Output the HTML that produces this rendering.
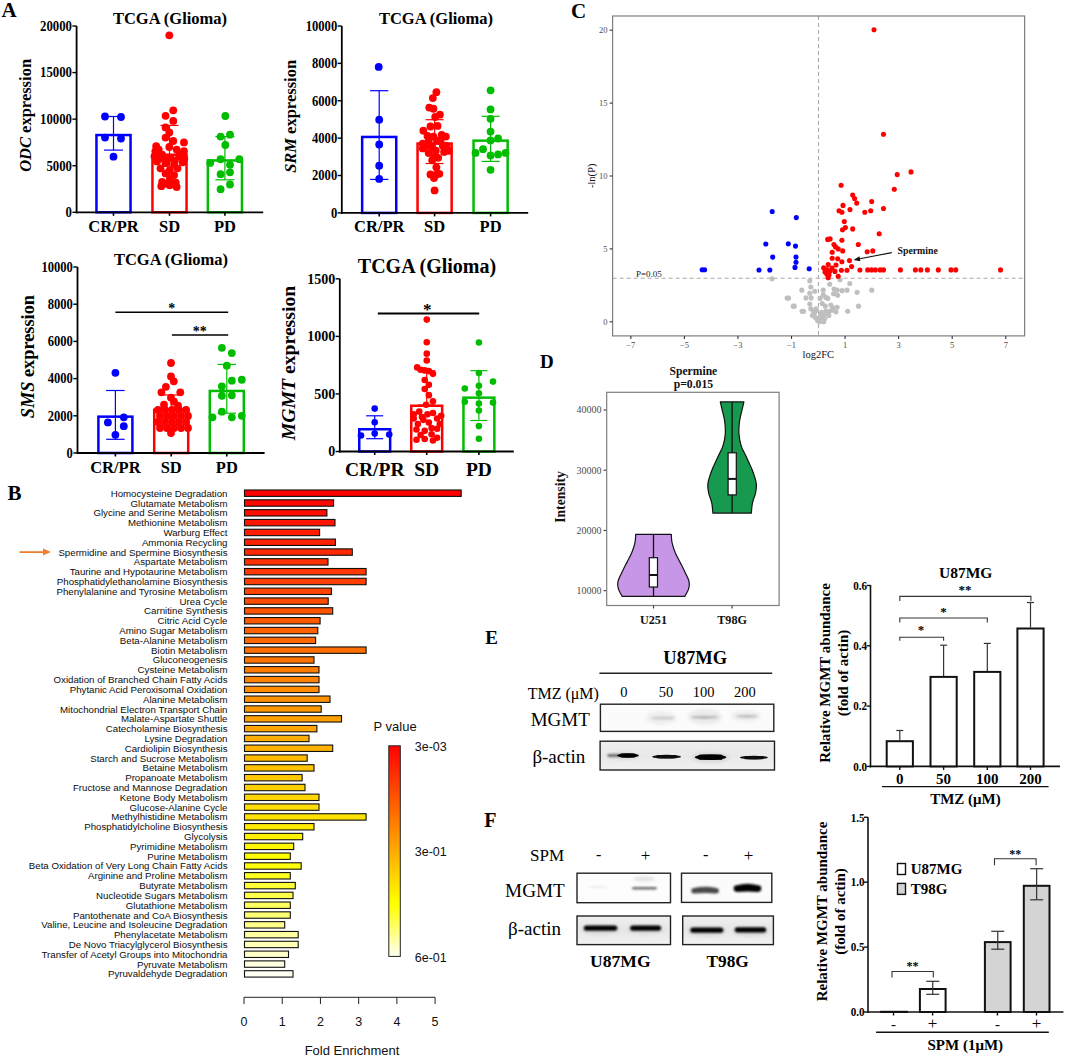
<!DOCTYPE html>
<html><head><meta charset="utf-8"><style>
html,body{margin:0;padding:0;background:#fff;width:1065px;height:1056px;overflow:hidden;}
svg{display:block;}
</style></head><body>
<svg width="1065" height="1056" viewBox="0 0 1065 1056">
<rect x="0" y="0" width="1065" height="1056" fill="#fff"/>
<rect x="96.45" y="135.05" width="34.10" height="77.25" fill="none" stroke="#0000ff" stroke-width="2.5" />
<rect x="152.45" y="154.75" width="34.10" height="57.55" fill="none" stroke="#ff0000" stroke-width="2.5" />
<rect x="207.85" y="160.45" width="34.10" height="51.85" fill="none" stroke="#00bd00" stroke-width="2.5" />
<circle cx="105.00" cy="116.50" r="3.90" fill="#0000ff"/>
<circle cx="121.00" cy="117.00" r="3.90" fill="#0000ff"/>
<circle cx="105.00" cy="137.60" r="3.90" fill="#0000ff"/>
<circle cx="121.00" cy="138.50" r="3.90" fill="#0000ff"/>
<circle cx="113.50" cy="156.70" r="3.90" fill="#0000ff"/>
<circle cx="169.32" cy="35.34" r="3.90" fill="#ff0000"/>
<circle cx="173.24" cy="110.34" r="3.90" fill="#ff0000"/>
<circle cx="165.57" cy="115.79" r="3.90" fill="#ff0000"/>
<circle cx="173.24" cy="120.90" r="3.90" fill="#ff0000"/>
<circle cx="165.57" cy="127.38" r="3.90" fill="#ff0000"/>
<circle cx="169.32" cy="132.49" r="3.90" fill="#ff0000"/>
<circle cx="165.57" cy="137.61" r="3.90" fill="#ff0000"/>
<circle cx="173.24" cy="141.02" r="3.90" fill="#ff0000"/>
<circle cx="183.97" cy="142.38" r="3.90" fill="#ff0000"/>
<circle cx="156.19" cy="146.13" r="3.90" fill="#ff0000"/>
<circle cx="158.75" cy="149.54" r="3.90" fill="#ff0000"/>
<circle cx="169.32" cy="146.98" r="3.90" fill="#ff0000"/>
<circle cx="176.65" cy="149.54" r="3.90" fill="#ff0000"/>
<circle cx="183.97" cy="151.24" r="3.90" fill="#ff0000"/>
<circle cx="154.49" cy="156.36" r="3.90" fill="#ff0000"/>
<circle cx="162.16" cy="154.65" r="3.90" fill="#ff0000"/>
<circle cx="170.68" cy="158.06" r="3.90" fill="#ff0000"/>
<circle cx="179.20" cy="156.36" r="3.90" fill="#ff0000"/>
<circle cx="184.32" cy="158.91" r="3.90" fill="#ff0000"/>
<circle cx="157.04" cy="161.47" r="3.90" fill="#ff0000"/>
<circle cx="165.57" cy="163.17" r="3.90" fill="#ff0000"/>
<circle cx="174.09" cy="164.03" r="3.90" fill="#ff0000"/>
<circle cx="182.61" cy="162.32" r="3.90" fill="#ff0000"/>
<circle cx="160.45" cy="168.29" r="3.90" fill="#ff0000"/>
<circle cx="169.83" cy="169.99" r="3.90" fill="#ff0000"/>
<circle cx="177.50" cy="168.29" r="3.90" fill="#ff0000"/>
<circle cx="165.57" cy="173.40" r="3.90" fill="#ff0000"/>
<circle cx="174.09" cy="175.10" r="3.90" fill="#ff0000"/>
<circle cx="169.83" cy="178.51" r="3.90" fill="#ff0000"/>
<circle cx="162.16" cy="181.92" r="3.90" fill="#ff0000"/>
<circle cx="167.27" cy="183.63" r="3.90" fill="#ff0000"/>
<circle cx="175.79" cy="182.77" r="3.90" fill="#ff0000"/>
<circle cx="161.31" cy="186.18" r="3.90" fill="#ff0000"/>
<circle cx="169.83" cy="185.33" r="3.90" fill="#ff0000"/>
<circle cx="176.65" cy="187.04" r="3.90" fill="#ff0000"/>
<circle cx="155.34" cy="151.24" r="3.90" fill="#ff0000"/>
<circle cx="180.91" cy="154.65" r="3.90" fill="#ff0000"/>
<circle cx="163.86" cy="158.91" r="3.90" fill="#ff0000"/>
<circle cx="174.94" cy="160.62" r="3.90" fill="#ff0000"/>
<circle cx="158.75" cy="157.21" r="3.90" fill="#ff0000"/>
<circle cx="225.30" cy="116.00" r="3.90" fill="#00bd00"/>
<circle cx="220.60" cy="136.60" r="3.90" fill="#00bd00"/>
<circle cx="230.00" cy="134.70" r="3.90" fill="#00bd00"/>
<circle cx="225.30" cy="145.00" r="3.90" fill="#00bd00"/>
<circle cx="210.20" cy="162.90" r="3.90" fill="#00bd00"/>
<circle cx="220.60" cy="159.20" r="3.90" fill="#00bd00"/>
<circle cx="239.30" cy="159.20" r="3.90" fill="#00bd00"/>
<circle cx="230.00" cy="164.80" r="3.90" fill="#00bd00"/>
<circle cx="220.60" cy="174.20" r="3.90" fill="#00bd00"/>
<circle cx="230.00" cy="172.30" r="3.90" fill="#00bd00"/>
<circle cx="230.00" cy="184.50" r="3.90" fill="#00bd00"/>
<circle cx="220.60" cy="189.20" r="3.90" fill="#00bd00"/>
<line x1="113.50" y1="116.50" x2="113.50" y2="150.10" stroke="#0000ff" stroke-width="1.2" />
<line x1="104.00" y1="116.50" x2="123.00" y2="116.50" stroke="#0000ff" stroke-width="1.2" />
<line x1="104.00" y1="150.10" x2="123.00" y2="150.10" stroke="#0000ff" stroke-width="1.2" />
<line x1="169.50" y1="125.40" x2="169.50" y2="180.80" stroke="#ff0000" stroke-width="1.2" />
<line x1="160.50" y1="125.40" x2="178.50" y2="125.40" stroke="#ff0000" stroke-width="1.2" />
<line x1="160.50" y1="180.80" x2="178.50" y2="180.80" stroke="#ff0000" stroke-width="1.2" />
<line x1="224.90" y1="136.60" x2="224.90" y2="179.80" stroke="#00bd00" stroke-width="1.2" />
<line x1="215.40" y1="136.60" x2="234.40" y2="136.60" stroke="#00bd00" stroke-width="1.2" />
<line x1="215.40" y1="179.80" x2="234.40" y2="179.80" stroke="#00bd00" stroke-width="1.2" />
<line x1="76.60" y1="26.00" x2="76.60" y2="213.30" stroke="#000" stroke-width="1.8" />
<line x1="75.70" y1="212.30" x2="263.20" y2="212.30" stroke="#000" stroke-width="1.8" />
<line x1="72.40" y1="212.30" x2="76.60" y2="212.30" stroke="#000" stroke-width="1.4" />
<text x="72.00" y="217.13" text-anchor="end" style="font-family:'Liberation Serif', serif;font-size:13.8px;font-weight:bold;" fill="#000"  textLength="6.40" lengthAdjust="spacingAndGlyphs">0</text>
<line x1="72.40" y1="165.73" x2="76.60" y2="165.73" stroke="#000" stroke-width="1.4" />
<text x="72.00" y="170.56" text-anchor="end" style="font-family:'Liberation Serif', serif;font-size:13.8px;font-weight:bold;" fill="#000"  textLength="25.60" lengthAdjust="spacingAndGlyphs">5000</text>
<line x1="72.40" y1="119.15" x2="76.60" y2="119.15" stroke="#000" stroke-width="1.4" />
<text x="72.00" y="123.98" text-anchor="end" style="font-family:'Liberation Serif', serif;font-size:13.8px;font-weight:bold;" fill="#000"  textLength="32.00" lengthAdjust="spacingAndGlyphs">10000</text>
<line x1="72.40" y1="72.58" x2="76.60" y2="72.58" stroke="#000" stroke-width="1.4" />
<text x="72.00" y="77.41" text-anchor="end" style="font-family:'Liberation Serif', serif;font-size:13.8px;font-weight:bold;" fill="#000"  textLength="32.00" lengthAdjust="spacingAndGlyphs">15000</text>
<line x1="72.40" y1="26.00" x2="76.60" y2="26.00" stroke="#000" stroke-width="1.4" />
<text x="72.00" y="30.83" text-anchor="end" style="font-family:'Liberation Serif', serif;font-size:13.8px;font-weight:bold;" fill="#000"  textLength="32.00" lengthAdjust="spacingAndGlyphs">20000</text>
<line x1="113.50" y1="212.30" x2="113.50" y2="215.80" stroke="#000" stroke-width="1.6" />
<line x1="169.50" y1="212.30" x2="169.50" y2="215.80" stroke="#000" stroke-width="1.6" />
<line x1="224.90" y1="212.30" x2="224.90" y2="215.80" stroke="#000" stroke-width="1.6" />
<text x="113.50" y="232.40" text-anchor="middle" style="font-family:'Liberation Serif', serif;font-size:16.5px;font-weight:bold;" fill="#000" >CR/PR</text>
<text x="169.50" y="232.40" text-anchor="middle" style="font-family:'Liberation Serif', serif;font-size:16.5px;font-weight:bold;" fill="#000" >SD</text>
<text x="224.90" y="232.40" text-anchor="middle" style="font-family:'Liberation Serif', serif;font-size:16.5px;font-weight:bold;" fill="#000" >PD</text>
<text x="170.00" y="23.50" text-anchor="middle" style="font-family:'Liberation Serif', serif;font-size:16.5px;font-weight:bold;" fill="#000" >TCGA (Glioma)</text>
<text x="31" y="115.4" text-anchor="middle" transform="rotate(-90 31 115.4)" style="font-family:'Liberation Serif', serif;font-size:16.5px;font-weight:bold;"><tspan font-style="italic">ODC</tspan> expression</text>
<rect x="362.15" y="136.95" width="34.10" height="75.95" fill="none" stroke="#0000ff" stroke-width="2.5" />
<rect x="417.55" y="143.55" width="34.10" height="69.35" fill="none" stroke="#ff0000" stroke-width="2.5" />
<rect x="473.55" y="140.65" width="34.10" height="72.25" fill="none" stroke="#00bd00" stroke-width="2.5" />
<circle cx="378.70" cy="66.90" r="3.90" fill="#0000ff"/>
<circle cx="379.20" cy="119.70" r="3.90" fill="#0000ff"/>
<circle cx="379.20" cy="144.50" r="3.90" fill="#0000ff"/>
<circle cx="379.20" cy="165.70" r="3.90" fill="#0000ff"/>
<circle cx="379.20" cy="178.90" r="3.90" fill="#0000ff"/>
<circle cx="436.37" cy="92.16" r="3.90" fill="#ff0000"/>
<circle cx="432.82" cy="98.08" r="3.90" fill="#ff0000"/>
<circle cx="429.27" cy="107.55" r="3.90" fill="#ff0000"/>
<circle cx="433.41" cy="108.74" r="3.90" fill="#ff0000"/>
<circle cx="439.92" cy="114.65" r="3.90" fill="#ff0000"/>
<circle cx="435.18" cy="117.02" r="3.90" fill="#ff0000"/>
<circle cx="430.45" cy="126.49" r="3.90" fill="#ff0000"/>
<circle cx="437.55" cy="125.90" r="3.90" fill="#ff0000"/>
<circle cx="423.35" cy="130.63" r="3.90" fill="#ff0000"/>
<circle cx="427.49" cy="135.96" r="3.90" fill="#ff0000"/>
<circle cx="433.41" cy="136.55" r="3.90" fill="#ff0000"/>
<circle cx="441.70" cy="134.78" r="3.90" fill="#ff0000"/>
<circle cx="445.84" cy="136.55" r="3.90" fill="#ff0000"/>
<circle cx="428.67" cy="141.29" r="3.90" fill="#ff0000"/>
<circle cx="436.96" cy="140.70" r="3.90" fill="#ff0000"/>
<circle cx="422.76" cy="148.39" r="3.90" fill="#ff0000"/>
<circle cx="432.23" cy="147.21" r="3.90" fill="#ff0000"/>
<circle cx="442.88" cy="146.02" r="3.90" fill="#ff0000"/>
<circle cx="448.80" cy="150.76" r="3.90" fill="#ff0000"/>
<circle cx="428.67" cy="153.12" r="3.90" fill="#ff0000"/>
<circle cx="434.59" cy="156.68" r="3.90" fill="#ff0000"/>
<circle cx="438.14" cy="157.86" r="3.90" fill="#ff0000"/>
<circle cx="432.23" cy="160.23" r="3.90" fill="#ff0000"/>
<circle cx="436.37" cy="167.33" r="3.90" fill="#ff0000"/>
<circle cx="430.45" cy="174.43" r="3.90" fill="#ff0000"/>
<circle cx="435.78" cy="175.02" r="3.90" fill="#ff0000"/>
<circle cx="439.33" cy="173.84" r="3.90" fill="#ff0000"/>
<circle cx="434.00" cy="177.98" r="3.90" fill="#ff0000"/>
<circle cx="434.59" cy="190.41" r="3.90" fill="#ff0000"/>
<circle cx="422.76" cy="143.66" r="3.90" fill="#ff0000"/>
<circle cx="440.51" cy="141.29" r="3.90" fill="#ff0000"/>
<circle cx="446.43" cy="146.02" r="3.90" fill="#ff0000"/>
<circle cx="426.31" cy="146.02" r="3.90" fill="#ff0000"/>
<circle cx="435.78" cy="150.76" r="3.90" fill="#ff0000"/>
<circle cx="444.06" cy="151.94" r="3.90" fill="#ff0000"/>
<circle cx="490.56" cy="109.39" r="3.90" fill="#00bd00"/>
<circle cx="490.56" cy="118.78" r="3.90" fill="#00bd00"/>
<circle cx="490.56" cy="131.55" r="3.90" fill="#00bd00"/>
<circle cx="490.56" cy="140.38" r="3.90" fill="#00bd00"/>
<circle cx="498.08" cy="138.50" r="3.90" fill="#00bd00"/>
<circle cx="483.05" cy="149.20" r="3.90" fill="#00bd00"/>
<circle cx="475.54" cy="152.96" r="3.90" fill="#00bd00"/>
<circle cx="490.56" cy="155.40" r="3.90" fill="#00bd00"/>
<circle cx="498.08" cy="154.46" r="3.90" fill="#00bd00"/>
<circle cx="505.59" cy="152.96" r="3.90" fill="#00bd00"/>
<circle cx="490.56" cy="169.86" r="3.90" fill="#00bd00"/>
<circle cx="490.60" cy="90.30" r="3.90" fill="#00bd00"/>
<line x1="379.20" y1="90.70" x2="379.20" y2="179.40" stroke="#0000ff" stroke-width="1.2" />
<line x1="370.05" y1="90.70" x2="388.35" y2="90.70" stroke="#0000ff" stroke-width="1.2" />
<line x1="370.05" y1="179.40" x2="388.35" y2="179.40" stroke="#0000ff" stroke-width="1.2" />
<line x1="434.60" y1="119.70" x2="434.60" y2="163.50" stroke="#ff0000" stroke-width="1.2" />
<line x1="425.60" y1="119.70" x2="443.60" y2="119.70" stroke="#ff0000" stroke-width="1.2" />
<line x1="425.60" y1="163.50" x2="443.60" y2="163.50" stroke="#ff0000" stroke-width="1.2" />
<line x1="490.60" y1="116.30" x2="490.60" y2="161.40" stroke="#00bd00" stroke-width="1.2" />
<line x1="481.60" y1="116.30" x2="499.60" y2="116.30" stroke="#00bd00" stroke-width="1.2" />
<line x1="481.60" y1="161.40" x2="499.60" y2="161.40" stroke="#00bd00" stroke-width="1.2" />
<line x1="341.80" y1="26.00" x2="341.80" y2="213.90" stroke="#000" stroke-width="1.8" />
<line x1="340.90" y1="212.90" x2="528.20" y2="212.90" stroke="#000" stroke-width="1.8" />
<line x1="337.60" y1="212.90" x2="341.80" y2="212.90" stroke="#000" stroke-width="1.4" />
<text x="337.20" y="217.80" text-anchor="end" style="font-family:'Liberation Serif', serif;font-size:14px;font-weight:bold;" fill="#000"  textLength="6.30" lengthAdjust="spacingAndGlyphs">0</text>
<line x1="337.60" y1="175.52" x2="341.80" y2="175.52" stroke="#000" stroke-width="1.4" />
<text x="337.20" y="180.42" text-anchor="end" style="font-family:'Liberation Serif', serif;font-size:14px;font-weight:bold;" fill="#000"  textLength="25.20" lengthAdjust="spacingAndGlyphs">2000</text>
<line x1="337.60" y1="138.14" x2="341.80" y2="138.14" stroke="#000" stroke-width="1.4" />
<text x="337.20" y="143.04" text-anchor="end" style="font-family:'Liberation Serif', serif;font-size:14px;font-weight:bold;" fill="#000"  textLength="25.20" lengthAdjust="spacingAndGlyphs">4000</text>
<line x1="337.60" y1="100.76" x2="341.80" y2="100.76" stroke="#000" stroke-width="1.4" />
<text x="337.20" y="105.66" text-anchor="end" style="font-family:'Liberation Serif', serif;font-size:14px;font-weight:bold;" fill="#000"  textLength="25.20" lengthAdjust="spacingAndGlyphs">6000</text>
<line x1="337.60" y1="63.38" x2="341.80" y2="63.38" stroke="#000" stroke-width="1.4" />
<text x="337.20" y="68.28" text-anchor="end" style="font-family:'Liberation Serif', serif;font-size:14px;font-weight:bold;" fill="#000"  textLength="25.20" lengthAdjust="spacingAndGlyphs">8000</text>
<line x1="337.60" y1="26.00" x2="341.80" y2="26.00" stroke="#000" stroke-width="1.4" />
<text x="337.20" y="30.90" text-anchor="end" style="font-family:'Liberation Serif', serif;font-size:14px;font-weight:bold;" fill="#000"  textLength="31.50" lengthAdjust="spacingAndGlyphs">10000</text>
<line x1="379.20" y1="212.90" x2="379.20" y2="216.40" stroke="#000" stroke-width="1.6" />
<line x1="434.60" y1="212.90" x2="434.60" y2="216.40" stroke="#000" stroke-width="1.6" />
<line x1="490.60" y1="212.90" x2="490.60" y2="216.40" stroke="#000" stroke-width="1.6" />
<text x="379.20" y="232.40" text-anchor="middle" style="font-family:'Liberation Serif', serif;font-size:16.5px;font-weight:bold;" fill="#000" >CR/PR</text>
<text x="434.60" y="232.40" text-anchor="middle" style="font-family:'Liberation Serif', serif;font-size:16.5px;font-weight:bold;" fill="#000" >SD</text>
<text x="490.60" y="232.40" text-anchor="middle" style="font-family:'Liberation Serif', serif;font-size:16.5px;font-weight:bold;" fill="#000" >PD</text>
<text x="436.00" y="23.80" text-anchor="middle" style="font-family:'Liberation Serif', serif;font-size:16.5px;font-weight:bold;" fill="#000" >TCGA (Glioma)</text>
<text x="296" y="116.4" text-anchor="middle" transform="rotate(-90 296 116.4)" style="font-family:'Liberation Serif', serif;font-size:16.5px;font-weight:bold;"><tspan font-style="italic">SRM</tspan> expression</text>
<rect x="98.40" y="416.65" width="34.00" height="36.35" fill="none" stroke="#0000ff" stroke-width="2.5" />
<rect x="154.20" y="409.75" width="34.00" height="43.25" fill="none" stroke="#ff0000" stroke-width="2.5" />
<rect x="209.80" y="390.95" width="34.00" height="62.05" fill="none" stroke="#00bd00" stroke-width="2.5" />
<circle cx="115.40" cy="372.80" r="3.90" fill="#0000ff"/>
<circle cx="107.90" cy="422.40" r="3.90" fill="#0000ff"/>
<circle cx="123.80" cy="417.30" r="3.90" fill="#0000ff"/>
<circle cx="123.80" cy="426.20" r="3.90" fill="#0000ff"/>
<circle cx="115.40" cy="434.80" r="3.90" fill="#0000ff"/>
<circle cx="171.00" cy="363.00" r="3.90" fill="#ff0000"/>
<circle cx="171.00" cy="376.40" r="3.90" fill="#ff0000"/>
<circle cx="173.80" cy="381.30" r="3.90" fill="#ff0000"/>
<circle cx="165.90" cy="386.80" r="3.90" fill="#ff0000"/>
<circle cx="161.40" cy="392.30" r="3.90" fill="#ff0000"/>
<circle cx="180.30" cy="392.30" r="3.90" fill="#ff0000"/>
<circle cx="171.00" cy="397.70" r="3.90" fill="#ff0000"/>
<circle cx="174.00" cy="401.70" r="3.90" fill="#ff0000"/>
<circle cx="164.00" cy="404.70" r="3.90" fill="#ff0000"/>
<circle cx="178.00" cy="405.70" r="3.90" fill="#ff0000"/>
<circle cx="171.00" cy="433.00" r="3.90" fill="#ff0000"/>
<circle cx="158.00" cy="410.00" r="3.90" fill="#ff0000"/>
<circle cx="165.00" cy="410.00" r="3.90" fill="#ff0000"/>
<circle cx="172.00" cy="410.00" r="3.90" fill="#ff0000"/>
<circle cx="179.00" cy="410.00" r="3.90" fill="#ff0000"/>
<circle cx="186.00" cy="410.00" r="3.90" fill="#ff0000"/>
<circle cx="160.00" cy="416.00" r="3.90" fill="#ff0000"/>
<circle cx="167.00" cy="416.00" r="3.90" fill="#ff0000"/>
<circle cx="174.00" cy="416.00" r="3.90" fill="#ff0000"/>
<circle cx="181.00" cy="416.00" r="3.90" fill="#ff0000"/>
<circle cx="188.00" cy="416.00" r="3.90" fill="#ff0000"/>
<circle cx="158.00" cy="422.00" r="3.90" fill="#ff0000"/>
<circle cx="165.00" cy="422.00" r="3.90" fill="#ff0000"/>
<circle cx="172.00" cy="422.00" r="3.90" fill="#ff0000"/>
<circle cx="179.00" cy="422.00" r="3.90" fill="#ff0000"/>
<circle cx="186.00" cy="422.00" r="3.90" fill="#ff0000"/>
<circle cx="160.00" cy="428.00" r="3.90" fill="#ff0000"/>
<circle cx="167.00" cy="428.00" r="3.90" fill="#ff0000"/>
<circle cx="174.00" cy="428.00" r="3.90" fill="#ff0000"/>
<circle cx="181.00" cy="428.00" r="3.90" fill="#ff0000"/>
<circle cx="188.00" cy="428.00" r="3.90" fill="#ff0000"/>
<circle cx="221.88" cy="347.84" r="3.90" fill="#00bd00"/>
<circle cx="231.83" cy="353.10" r="3.90" fill="#00bd00"/>
<circle cx="226.76" cy="365.68" r="3.90" fill="#00bd00"/>
<circle cx="231.83" cy="380.70" r="3.90" fill="#00bd00"/>
<circle cx="241.78" cy="379.77" r="3.90" fill="#00bd00"/>
<circle cx="221.88" cy="386.34" r="3.90" fill="#00bd00"/>
<circle cx="221.88" cy="395.73" r="3.90" fill="#00bd00"/>
<circle cx="231.83" cy="395.35" r="3.90" fill="#00bd00"/>
<circle cx="221.88" cy="411.69" r="3.90" fill="#00bd00"/>
<circle cx="212.49" cy="417.32" r="3.90" fill="#00bd00"/>
<circle cx="231.83" cy="417.32" r="3.90" fill="#00bd00"/>
<circle cx="241.78" cy="415.82" r="3.90" fill="#00bd00"/>
<line x1="115.40" y1="390.50" x2="115.40" y2="439.30" stroke="#0000ff" stroke-width="1.2" />
<line x1="106.15" y1="390.50" x2="124.65" y2="390.50" stroke="#0000ff" stroke-width="1.2" />
<line x1="106.15" y1="439.30" x2="124.65" y2="439.30" stroke="#0000ff" stroke-width="1.2" />
<line x1="171.20" y1="395.00" x2="171.20" y2="425.00" stroke="#ff0000" stroke-width="1.2" />
<line x1="162.20" y1="395.00" x2="180.20" y2="395.00" stroke="#ff0000" stroke-width="1.2" />
<line x1="162.20" y1="425.00" x2="180.20" y2="425.00" stroke="#ff0000" stroke-width="1.2" />
<line x1="226.80" y1="364.40" x2="226.80" y2="413.20" stroke="#00bd00" stroke-width="1.2" />
<line x1="217.55" y1="364.40" x2="236.05" y2="364.40" stroke="#00bd00" stroke-width="1.2" />
<line x1="217.55" y1="413.20" x2="236.05" y2="413.20" stroke="#00bd00" stroke-width="1.2" />
<line x1="77.50" y1="267.00" x2="77.50" y2="454.00" stroke="#000" stroke-width="1.8" />
<line x1="76.60" y1="453.00" x2="264.60" y2="453.00" stroke="#000" stroke-width="1.8" />
<line x1="73.30" y1="453.00" x2="77.50" y2="453.00" stroke="#000" stroke-width="1.4" />
<text x="72.90" y="457.83" text-anchor="end" style="font-family:'Liberation Serif', serif;font-size:13.8px;font-weight:bold;" fill="#000"  textLength="6.30" lengthAdjust="spacingAndGlyphs">0</text>
<line x1="73.30" y1="415.80" x2="77.50" y2="415.80" stroke="#000" stroke-width="1.4" />
<text x="72.90" y="420.63" text-anchor="end" style="font-family:'Liberation Serif', serif;font-size:13.8px;font-weight:bold;" fill="#000"  textLength="25.20" lengthAdjust="spacingAndGlyphs">2000</text>
<line x1="73.30" y1="378.60" x2="77.50" y2="378.60" stroke="#000" stroke-width="1.4" />
<text x="72.90" y="383.43" text-anchor="end" style="font-family:'Liberation Serif', serif;font-size:13.8px;font-weight:bold;" fill="#000"  textLength="25.20" lengthAdjust="spacingAndGlyphs">4000</text>
<line x1="73.30" y1="341.40" x2="77.50" y2="341.40" stroke="#000" stroke-width="1.4" />
<text x="72.90" y="346.23" text-anchor="end" style="font-family:'Liberation Serif', serif;font-size:13.8px;font-weight:bold;" fill="#000"  textLength="25.20" lengthAdjust="spacingAndGlyphs">6000</text>
<line x1="73.30" y1="304.20" x2="77.50" y2="304.20" stroke="#000" stroke-width="1.4" />
<text x="72.90" y="309.03" text-anchor="end" style="font-family:'Liberation Serif', serif;font-size:13.8px;font-weight:bold;" fill="#000"  textLength="25.20" lengthAdjust="spacingAndGlyphs">8000</text>
<line x1="73.30" y1="267.00" x2="77.50" y2="267.00" stroke="#000" stroke-width="1.4" />
<text x="72.90" y="271.83" text-anchor="end" style="font-family:'Liberation Serif', serif;font-size:13.8px;font-weight:bold;" fill="#000"  textLength="31.50" lengthAdjust="spacingAndGlyphs">10000</text>
<line x1="115.40" y1="453.00" x2="115.40" y2="456.50" stroke="#000" stroke-width="1.6" />
<line x1="171.20" y1="453.00" x2="171.20" y2="456.50" stroke="#000" stroke-width="1.6" />
<line x1="226.80" y1="453.00" x2="226.80" y2="456.50" stroke="#000" stroke-width="1.6" />
<text x="115.40" y="472.70" text-anchor="middle" style="font-family:'Liberation Serif', serif;font-size:16.5px;font-weight:bold;" fill="#000" >CR/PR</text>
<text x="171.20" y="472.70" text-anchor="middle" style="font-family:'Liberation Serif', serif;font-size:16.5px;font-weight:bold;" fill="#000" >SD</text>
<text x="226.80" y="472.70" text-anchor="middle" style="font-family:'Liberation Serif', serif;font-size:16.5px;font-weight:bold;" fill="#000" >PD</text>
<text x="171.00" y="265.40" text-anchor="middle" style="font-family:'Liberation Serif', serif;font-size:16.5px;font-weight:bold;" fill="#000" >TCGA (Glioma)</text>
<text x="34" y="356.6" text-anchor="middle" transform="rotate(-90 34 356.6)" style="font-family:'Liberation Serif', serif;font-size:18.3px;font-weight:bold;"><tspan font-style="italic">SMS</tspan> expression</text>
<line x1="115.40" y1="312.30" x2="228.20" y2="312.30" stroke="#000" stroke-width="1.6" />
<text x="171.70" y="312.50" text-anchor="middle" style="font-family:'Liberation Serif', serif;font-size:14px;font-weight:bold;" fill="#000" >*</text>
<line x1="171.90" y1="335.00" x2="228.20" y2="335.00" stroke="#000" stroke-width="1.6" />
<text x="199.70" y="335.50" text-anchor="middle" style="font-family:'Liberation Serif', serif;font-size:14px;font-weight:bold;" fill="#000" >**</text>
<rect x="359.25" y="429.25" width="30.90" height="22.25" fill="none" stroke="#0000ff" stroke-width="2.5" />
<rect x="411.25" y="405.75" width="30.90" height="45.75" fill="none" stroke="#ff0000" stroke-width="2.5" />
<rect x="463.45" y="397.65" width="30.90" height="53.85" fill="none" stroke="#00bd00" stroke-width="2.5" />
<circle cx="374.70" cy="408.60" r="3.30" fill="#0000ff"/>
<circle cx="374.70" cy="422.30" r="3.30" fill="#0000ff"/>
<circle cx="374.70" cy="433.60" r="3.30" fill="#0000ff"/>
<circle cx="361.00" cy="435.50" r="3.30" fill="#0000ff"/>
<circle cx="389.20" cy="434.60" r="3.30" fill="#0000ff"/>
<circle cx="426.77" cy="319.61" r="3.30" fill="#ff0000"/>
<circle cx="426.77" cy="342.27" r="3.30" fill="#ff0000"/>
<circle cx="426.77" cy="353.66" r="3.30" fill="#ff0000"/>
<circle cx="426.77" cy="360.53" r="3.30" fill="#ff0000"/>
<circle cx="417.16" cy="367.39" r="3.30" fill="#ff0000"/>
<circle cx="420.60" cy="369.73" r="3.30" fill="#ff0000"/>
<circle cx="424.72" cy="370.41" r="3.30" fill="#ff0000"/>
<circle cx="428.83" cy="371.10" r="3.30" fill="#ff0000"/>
<circle cx="432.95" cy="373.85" r="3.30" fill="#ff0000"/>
<circle cx="424.72" cy="380.03" r="3.30" fill="#ff0000"/>
<circle cx="428.83" cy="384.83" r="3.30" fill="#ff0000"/>
<circle cx="424.72" cy="388.95" r="3.30" fill="#ff0000"/>
<circle cx="428.83" cy="395.13" r="3.30" fill="#ff0000"/>
<circle cx="432.95" cy="401.31" r="3.30" fill="#ff0000"/>
<circle cx="426.09" cy="404.74" r="3.30" fill="#ff0000"/>
<circle cx="419.22" cy="411.61" r="3.30" fill="#ff0000"/>
<circle cx="432.95" cy="412.98" r="3.30" fill="#ff0000"/>
<circle cx="413.73" cy="418.47" r="3.30" fill="#ff0000"/>
<circle cx="423.34" cy="419.84" r="3.30" fill="#ff0000"/>
<circle cx="437.07" cy="418.47" r="3.30" fill="#ff0000"/>
<circle cx="417.85" cy="423.96" r="3.30" fill="#ff0000"/>
<circle cx="428.83" cy="422.59" r="3.30" fill="#ff0000"/>
<circle cx="439.82" cy="423.96" r="3.30" fill="#ff0000"/>
<circle cx="416.48" cy="429.46" r="3.30" fill="#ff0000"/>
<circle cx="424.72" cy="430.83" r="3.30" fill="#ff0000"/>
<circle cx="437.07" cy="428.77" r="3.30" fill="#ff0000"/>
<circle cx="420.60" cy="434.95" r="3.30" fill="#ff0000"/>
<circle cx="431.58" cy="434.26" r="3.30" fill="#ff0000"/>
<circle cx="416.48" cy="439.75" r="3.30" fill="#ff0000"/>
<circle cx="424.72" cy="439.07" r="3.30" fill="#ff0000"/>
<circle cx="432.95" cy="440.44" r="3.30" fill="#ff0000"/>
<circle cx="437.07" cy="437.69" r="3.30" fill="#ff0000"/>
<circle cx="413.73" cy="414.35" r="3.30" fill="#ff0000"/>
<circle cx="441.19" cy="415.73" r="3.30" fill="#ff0000"/>
<circle cx="427.46" cy="414.35" r="3.30" fill="#ff0000"/>
<circle cx="421.97" cy="417.10" r="3.30" fill="#ff0000"/>
<circle cx="431.58" cy="428.08" r="3.30" fill="#ff0000"/>
<circle cx="478.90" cy="342.50" r="3.30" fill="#00bd00"/>
<circle cx="478.90" cy="373.10" r="3.30" fill="#00bd00"/>
<circle cx="493.00" cy="381.60" r="3.30" fill="#00bd00"/>
<circle cx="464.80" cy="388.50" r="3.30" fill="#00bd00"/>
<circle cx="478.90" cy="385.70" r="3.30" fill="#00bd00"/>
<circle cx="478.90" cy="393.20" r="3.30" fill="#00bd00"/>
<circle cx="464.80" cy="401.70" r="3.30" fill="#00bd00"/>
<circle cx="493.00" cy="402.60" r="3.30" fill="#00bd00"/>
<circle cx="478.90" cy="403.60" r="3.30" fill="#00bd00"/>
<circle cx="478.90" cy="410.50" r="3.30" fill="#00bd00"/>
<circle cx="478.90" cy="426.10" r="3.30" fill="#00bd00"/>
<circle cx="478.90" cy="438.70" r="3.30" fill="#00bd00"/>
<line x1="374.70" y1="415.80" x2="374.70" y2="438.70" stroke="#0000ff" stroke-width="1.2" />
<line x1="366.20" y1="415.80" x2="383.20" y2="415.80" stroke="#0000ff" stroke-width="1.2" />
<line x1="366.20" y1="438.70" x2="383.20" y2="438.70" stroke="#0000ff" stroke-width="1.2" />
<line x1="426.70" y1="370.70" x2="426.70" y2="405.00" stroke="#ff0000" stroke-width="1.2" />
<line x1="418.20" y1="370.70" x2="435.20" y2="370.70" stroke="#ff0000" stroke-width="1.2" />
<line x1="418.20" y1="405.00" x2="435.20" y2="405.00" stroke="#ff0000" stroke-width="1.2" />
<line x1="478.90" y1="370.70" x2="478.90" y2="420.50" stroke="#00bd00" stroke-width="1.2" />
<line x1="470.40" y1="370.70" x2="487.40" y2="370.70" stroke="#00bd00" stroke-width="1.2" />
<line x1="470.40" y1="420.50" x2="487.40" y2="420.50" stroke="#00bd00" stroke-width="1.2" />
<line x1="339.80" y1="278.80" x2="339.80" y2="452.50" stroke="#000" stroke-width="1.8" />
<line x1="338.90" y1="451.50" x2="513.80" y2="451.50" stroke="#000" stroke-width="1.8" />
<line x1="335.60" y1="451.50" x2="339.80" y2="451.50" stroke="#000" stroke-width="1.4" />
<text x="335.20" y="456.40" text-anchor="end" style="font-family:'Liberation Serif', serif;font-size:14px;font-weight:bold;" fill="#000"  textLength="7.00" lengthAdjust="spacingAndGlyphs">0</text>
<line x1="335.60" y1="393.93" x2="339.80" y2="393.93" stroke="#000" stroke-width="1.4" />
<text x="335.20" y="398.83" text-anchor="end" style="font-family:'Liberation Serif', serif;font-size:14px;font-weight:bold;" fill="#000"  textLength="21.00" lengthAdjust="spacingAndGlyphs">500</text>
<line x1="335.60" y1="336.37" x2="339.80" y2="336.37" stroke="#000" stroke-width="1.4" />
<text x="335.20" y="341.27" text-anchor="end" style="font-family:'Liberation Serif', serif;font-size:14px;font-weight:bold;" fill="#000"  textLength="28.00" lengthAdjust="spacingAndGlyphs">1000</text>
<line x1="335.60" y1="278.80" x2="339.80" y2="278.80" stroke="#000" stroke-width="1.4" />
<text x="335.20" y="283.70" text-anchor="end" style="font-family:'Liberation Serif', serif;font-size:14px;font-weight:bold;" fill="#000"  textLength="28.00" lengthAdjust="spacingAndGlyphs">1500</text>
<line x1="374.70" y1="451.50" x2="374.70" y2="455.00" stroke="#000" stroke-width="1.6" />
<line x1="426.70" y1="451.50" x2="426.70" y2="455.00" stroke="#000" stroke-width="1.6" />
<line x1="478.90" y1="451.50" x2="478.90" y2="455.00" stroke="#000" stroke-width="1.6" />
<text x="374.70" y="475.90" text-anchor="middle" style="font-family:'Liberation Serif', serif;font-size:19.5px;font-weight:bold;" fill="#000" >CR/PR</text>
<text x="426.70" y="475.90" text-anchor="middle" style="font-family:'Liberation Serif', serif;font-size:19.5px;font-weight:bold;" fill="#000" >SD</text>
<text x="478.90" y="475.90" text-anchor="middle" style="font-family:'Liberation Serif', serif;font-size:19.5px;font-weight:bold;" fill="#000" >PD</text>
<text x="427.00" y="273.00" text-anchor="middle" style="font-family:'Liberation Serif', serif;font-size:20px;font-weight:bold;" fill="#000" >TCGA (Glioma)</text>
<text x="295" y="363" text-anchor="middle" transform="rotate(-90 295 363)" style="font-family:'Liberation Serif', serif;font-size:19.7px;font-weight:bold;"><tspan font-style="italic">MGMT</tspan> expression</text>
<line x1="377.80" y1="313.50" x2="479.20" y2="313.50" stroke="#000" stroke-width="1.8" />
<text x="427.20" y="314.50" text-anchor="middle" style="font-family:'Liberation Serif', serif;font-size:17px;font-weight:bold;" fill="#000" >*</text>
<text x="1.50" y="17.00" text-anchor="start" style="font-family:'Liberation Serif', serif;font-size:21px;font-weight:bold;" fill="#000" >A</text>
<text x="7.50" y="500.30" text-anchor="start" style="font-family:'Liberation Serif', serif;font-size:21px;font-weight:bold;" fill="#000" >B</text>
<rect x="244.50" y="490.00" width="216.70" height="6.40" fill="#ff0000" stroke="#111" stroke-width="1.1" />
<text x="227.50" y="496.70" text-anchor="end" style="font-family:'Liberation Sans', sans-serif;font-size:9.7px;font-weight:normal;" fill="#0d0d0d" >Homocysteine Degradation</text>
<rect x="244.50" y="499.81" width="89.10" height="6.40" fill="#ff0700" stroke="#111" stroke-width="1.1" />
<text x="227.50" y="506.51" text-anchor="end" style="font-family:'Liberation Sans', sans-serif;font-size:9.7px;font-weight:normal;" fill="#0d0d0d" >Glutamate Metabolism</text>
<rect x="244.50" y="509.62" width="82.40" height="6.40" fill="#ff0e00" stroke="#111" stroke-width="1.1" />
<text x="227.50" y="516.32" text-anchor="end" style="font-family:'Liberation Sans', sans-serif;font-size:9.7px;font-weight:normal;" fill="#0d0d0d" >Glycine and Serine Metabolism</text>
<rect x="244.50" y="519.43" width="90.50" height="6.40" fill="#ff1500" stroke="#111" stroke-width="1.1" />
<text x="227.50" y="526.13" text-anchor="end" style="font-family:'Liberation Sans', sans-serif;font-size:9.7px;font-weight:normal;" fill="#0d0d0d" >Methionine Metabolism</text>
<rect x="244.50" y="529.24" width="75.10" height="6.40" fill="#ff1c00" stroke="#111" stroke-width="1.1" />
<text x="227.50" y="535.94" text-anchor="end" style="font-family:'Liberation Sans', sans-serif;font-size:9.7px;font-weight:normal;" fill="#0d0d0d" >Warburg Effect</text>
<rect x="244.50" y="539.05" width="90.90" height="6.40" fill="#ff2200" stroke="#111" stroke-width="1.1" />
<text x="227.50" y="545.75" text-anchor="end" style="font-family:'Liberation Sans', sans-serif;font-size:9.7px;font-weight:normal;" fill="#0d0d0d" >Ammonia Recycling</text>
<rect x="244.50" y="548.86" width="107.80" height="6.40" fill="#ff2900" stroke="#111" stroke-width="1.1" />
<text x="227.50" y="555.56" text-anchor="end" style="font-family:'Liberation Sans', sans-serif;font-size:9.7px;font-weight:normal;" fill="#0d0d0d" >Spermidine and Spermine Biosynthesis</text>
<rect x="244.50" y="558.67" width="83.50" height="6.40" fill="#ff3000" stroke="#111" stroke-width="1.1" />
<text x="227.50" y="565.37" text-anchor="end" style="font-family:'Liberation Sans', sans-serif;font-size:9.7px;font-weight:normal;" fill="#0d0d0d" >Aspartate Metabolism</text>
<rect x="244.50" y="568.48" width="121.60" height="6.40" fill="#ff3700" stroke="#111" stroke-width="1.1" />
<text x="227.50" y="575.18" text-anchor="end" style="font-family:'Liberation Sans', sans-serif;font-size:9.7px;font-weight:normal;" fill="#0d0d0d" >Taurine and Hypotaurine Metabolism</text>
<rect x="244.50" y="578.29" width="121.60" height="6.40" fill="#ff3e00" stroke="#111" stroke-width="1.1" />
<text x="227.50" y="584.99" text-anchor="end" style="font-family:'Liberation Sans', sans-serif;font-size:9.7px;font-weight:normal;" fill="#0d0d0d" >Phosphatidylethanolamine Biosynthesis</text>
<rect x="244.50" y="588.10" width="86.90" height="6.40" fill="#ff4500" stroke="#111" stroke-width="1.1" />
<text x="227.50" y="594.80" text-anchor="end" style="font-family:'Liberation Sans', sans-serif;font-size:9.7px;font-weight:normal;" fill="#0d0d0d" >Phenylalanine and Tyrosine Metabolism</text>
<rect x="244.50" y="597.91" width="83.70" height="6.40" fill="#ff4c00" stroke="#111" stroke-width="1.1" />
<text x="227.50" y="604.61" text-anchor="end" style="font-family:'Liberation Sans', sans-serif;font-size:9.7px;font-weight:normal;" fill="#0d0d0d" >Urea Cycle</text>
<rect x="244.50" y="607.72" width="88.20" height="6.40" fill="#ff5300" stroke="#111" stroke-width="1.1" />
<text x="227.50" y="614.42" text-anchor="end" style="font-family:'Liberation Sans', sans-serif;font-size:9.7px;font-weight:normal;" fill="#0d0d0d" >Carnitine Synthesis</text>
<rect x="244.50" y="617.53" width="75.60" height="6.40" fill="#ff5a00" stroke="#111" stroke-width="1.1" />
<text x="227.50" y="624.23" text-anchor="end" style="font-family:'Liberation Sans', sans-serif;font-size:9.7px;font-weight:normal;" fill="#0d0d0d" >Citric Acid Cycle</text>
<rect x="244.50" y="627.34" width="73.30" height="6.40" fill="#ff6000" stroke="#111" stroke-width="1.1" />
<text x="227.50" y="634.04" text-anchor="end" style="font-family:'Liberation Sans', sans-serif;font-size:9.7px;font-weight:normal;" fill="#0d0d0d" >Amino Sugar Metabolism</text>
<rect x="244.50" y="637.15" width="71.10" height="6.40" fill="#ff6700" stroke="#111" stroke-width="1.1" />
<text x="227.50" y="643.85" text-anchor="end" style="font-family:'Liberation Sans', sans-serif;font-size:9.7px;font-weight:normal;" fill="#0d0d0d" >Beta-Alanine Metabolism</text>
<rect x="244.50" y="646.96" width="121.60" height="6.40" fill="#ff6e00" stroke="#111" stroke-width="1.1" />
<text x="227.50" y="653.66" text-anchor="end" style="font-family:'Liberation Sans', sans-serif;font-size:9.7px;font-weight:normal;" fill="#0d0d0d" >Biotin Metabolism</text>
<rect x="244.50" y="656.77" width="69.50" height="6.40" fill="#ff7500" stroke="#111" stroke-width="1.1" />
<text x="227.50" y="663.47" text-anchor="end" style="font-family:'Liberation Sans', sans-serif;font-size:9.7px;font-weight:normal;" fill="#0d0d0d" >Gluconeogenesis</text>
<rect x="244.50" y="666.58" width="74.50" height="6.40" fill="#ff7c00" stroke="#111" stroke-width="1.1" />
<text x="227.50" y="673.28" text-anchor="end" style="font-family:'Liberation Sans', sans-serif;font-size:9.7px;font-weight:normal;" fill="#0d0d0d" >Cysteine Metabolism</text>
<rect x="244.50" y="676.39" width="74.50" height="6.40" fill="#ff8300" stroke="#111" stroke-width="1.1" />
<text x="227.50" y="683.09" text-anchor="end" style="font-family:'Liberation Sans', sans-serif;font-size:9.7px;font-weight:normal;" fill="#0d0d0d" >Oxidation of Branched Chain Fatty Acids</text>
<rect x="244.50" y="686.20" width="74.50" height="6.40" fill="#ff8a00" stroke="#111" stroke-width="1.1" />
<text x="227.50" y="692.90" text-anchor="end" style="font-family:'Liberation Sans', sans-serif;font-size:9.7px;font-weight:normal;" fill="#0d0d0d" >Phytanic Acid Peroxisomal Oxidation</text>
<rect x="244.50" y="696.01" width="85.50" height="6.40" fill="#ff9100" stroke="#111" stroke-width="1.1" />
<text x="227.50" y="702.71" text-anchor="end" style="font-family:'Liberation Sans', sans-serif;font-size:9.7px;font-weight:normal;" fill="#0d0d0d" >Alanine Metabolism</text>
<rect x="244.50" y="705.82" width="76.70" height="6.40" fill="#ff9800" stroke="#111" stroke-width="1.1" />
<text x="227.50" y="712.52" text-anchor="end" style="font-family:'Liberation Sans', sans-serif;font-size:9.7px;font-weight:normal;" fill="#0d0d0d" >Mitochondrial Electron Transport Chain</text>
<rect x="244.50" y="715.63" width="97.00" height="6.40" fill="#ff9f00" stroke="#111" stroke-width="1.1" />
<text x="227.50" y="722.33" text-anchor="end" style="font-family:'Liberation Sans', sans-serif;font-size:9.7px;font-weight:normal;" fill="#0d0d0d" >Malate-Aspartate Shuttle</text>
<rect x="244.50" y="725.44" width="72.40" height="6.40" fill="#ffa500" stroke="#111" stroke-width="1.1" />
<text x="227.50" y="732.14" text-anchor="end" style="font-family:'Liberation Sans', sans-serif;font-size:9.7px;font-weight:normal;" fill="#0d0d0d" >Catecholamine Biosynthesis</text>
<rect x="244.50" y="735.25" width="64.50" height="6.40" fill="#ffac00" stroke="#111" stroke-width="1.1" />
<text x="227.50" y="741.95" text-anchor="end" style="font-family:'Liberation Sans', sans-serif;font-size:9.7px;font-weight:normal;" fill="#0d0d0d" >Lysine Degradation</text>
<rect x="244.50" y="745.06" width="88.20" height="6.40" fill="#ffb300" stroke="#111" stroke-width="1.1" />
<text x="227.50" y="751.76" text-anchor="end" style="font-family:'Liberation Sans', sans-serif;font-size:9.7px;font-weight:normal;" fill="#0d0d0d" >Cardiolipin Biosynthesis</text>
<rect x="244.50" y="754.87" width="62.70" height="6.40" fill="#ffba00" stroke="#111" stroke-width="1.1" />
<text x="227.50" y="761.57" text-anchor="end" style="font-family:'Liberation Sans', sans-serif;font-size:9.7px;font-weight:normal;" fill="#0d0d0d" >Starch and Sucrose Metabolism</text>
<rect x="244.50" y="764.68" width="69.50" height="6.40" fill="#ffc100" stroke="#111" stroke-width="1.1" />
<text x="227.50" y="771.38" text-anchor="end" style="font-family:'Liberation Sans', sans-serif;font-size:9.7px;font-weight:normal;" fill="#0d0d0d" >Betaine Metabolism</text>
<rect x="244.50" y="774.49" width="57.60" height="6.40" fill="#ffc800" stroke="#111" stroke-width="1.1" />
<text x="227.50" y="781.19" text-anchor="end" style="font-family:'Liberation Sans', sans-serif;font-size:9.7px;font-weight:normal;" fill="#0d0d0d" >Propanoate Metabolism</text>
<rect x="244.50" y="784.30" width="60.50" height="6.40" fill="#ffcf00" stroke="#111" stroke-width="1.1" />
<text x="227.50" y="791.00" text-anchor="end" style="font-family:'Liberation Sans', sans-serif;font-size:9.7px;font-weight:normal;" fill="#0d0d0d" >Fructose and Mannose Degradation</text>
<rect x="244.50" y="794.11" width="74.50" height="6.40" fill="#ffd600" stroke="#111" stroke-width="1.1" />
<text x="227.50" y="800.81" text-anchor="end" style="font-family:'Liberation Sans', sans-serif;font-size:9.7px;font-weight:normal;" fill="#0d0d0d" >Ketone Body Metabolism</text>
<rect x="244.50" y="803.92" width="74.50" height="6.40" fill="#ffdd00" stroke="#111" stroke-width="1.1" />
<text x="227.50" y="810.62" text-anchor="end" style="font-family:'Liberation Sans', sans-serif;font-size:9.7px;font-weight:normal;" fill="#0d0d0d" >Glucose-Alanine Cycle</text>
<rect x="244.50" y="813.73" width="121.60" height="6.40" fill="#ffe300" stroke="#111" stroke-width="1.1" />
<text x="227.50" y="820.43" text-anchor="end" style="font-family:'Liberation Sans', sans-serif;font-size:9.7px;font-weight:normal;" fill="#0d0d0d" >Methylhistidine Metabolism</text>
<rect x="244.50" y="823.54" width="69.50" height="6.40" fill="#ffea00" stroke="#111" stroke-width="1.1" />
<text x="227.50" y="830.24" text-anchor="end" style="font-family:'Liberation Sans', sans-serif;font-size:9.7px;font-weight:normal;" fill="#0d0d0d" >Phosphatidylcholine Biosynthesis</text>
<rect x="244.50" y="833.35" width="58.20" height="6.40" fill="#fff100" stroke="#111" stroke-width="1.1" />
<text x="227.50" y="840.05" text-anchor="end" style="font-family:'Liberation Sans', sans-serif;font-size:9.7px;font-weight:normal;" fill="#0d0d0d" >Glycolysis</text>
<rect x="244.50" y="843.16" width="49.20" height="6.40" fill="#fff800" stroke="#111" stroke-width="1.1" />
<text x="227.50" y="849.86" text-anchor="end" style="font-family:'Liberation Sans', sans-serif;font-size:9.7px;font-weight:normal;" fill="#0d0d0d" >Pyrimidine Metabolism</text>
<rect x="244.50" y="852.97" width="45.80" height="6.40" fill="#ffff00" stroke="#111" stroke-width="1.1" />
<text x="227.50" y="859.67" text-anchor="end" style="font-family:'Liberation Sans', sans-serif;font-size:9.7px;font-weight:normal;" fill="#0d0d0d" >Purine Metabolism</text>
<rect x="244.50" y="862.78" width="56.70" height="6.40" fill="#ffff0b" stroke="#111" stroke-width="1.1" />
<text x="227.50" y="869.48" text-anchor="end" style="font-family:'Liberation Sans', sans-serif;font-size:9.7px;font-weight:normal;" fill="#0d0d0d" >Beta Oxidation of Very Long Chain Fatty Acids</text>
<rect x="244.50" y="872.59" width="45.80" height="6.40" fill="#ffff20" stroke="#111" stroke-width="1.1" />
<text x="227.50" y="879.29" text-anchor="end" style="font-family:'Liberation Sans', sans-serif;font-size:9.7px;font-weight:normal;" fill="#0d0d0d" >Arginine and Proline Metabolism</text>
<rect x="244.50" y="882.40" width="50.80" height="6.40" fill="#ffff35" stroke="#111" stroke-width="1.1" />
<text x="227.50" y="889.10" text-anchor="end" style="font-family:'Liberation Sans', sans-serif;font-size:9.7px;font-weight:normal;" fill="#0d0d0d" >Butyrate Metabolism</text>
<rect x="244.50" y="892.21" width="48.50" height="6.40" fill="#ffff4a" stroke="#111" stroke-width="1.1" />
<text x="227.50" y="898.91" text-anchor="end" style="font-family:'Liberation Sans', sans-serif;font-size:9.7px;font-weight:normal;" fill="#0d0d0d" >Nucleotide Sugars Metabolism</text>
<rect x="244.50" y="902.02" width="45.80" height="6.40" fill="#ffff60" stroke="#111" stroke-width="1.1" />
<text x="227.50" y="908.72" text-anchor="end" style="font-family:'Liberation Sans', sans-serif;font-size:9.7px;font-weight:normal;" fill="#0d0d0d" >Glutathione Metabolism</text>
<rect x="244.50" y="911.83" width="45.80" height="6.40" fill="#ffff75" stroke="#111" stroke-width="1.1" />
<text x="227.50" y="918.53" text-anchor="end" style="font-family:'Liberation Sans', sans-serif;font-size:9.7px;font-weight:normal;" fill="#0d0d0d" >Pantothenate and CoA Biosynthesis</text>
<rect x="244.50" y="921.64" width="40.20" height="6.40" fill="#ffff8a" stroke="#111" stroke-width="1.1" />
<text x="227.50" y="928.34" text-anchor="end" style="font-family:'Liberation Sans', sans-serif;font-size:9.7px;font-weight:normal;" fill="#0d0d0d" >Valine, Leucine and Isoleucine Degradation</text>
<rect x="244.50" y="931.45" width="53.70" height="6.40" fill="#ffff9f" stroke="#111" stroke-width="1.1" />
<text x="227.50" y="938.15" text-anchor="end" style="font-family:'Liberation Sans', sans-serif;font-size:9.7px;font-weight:normal;" fill="#0d0d0d" >Phenylacetate Metabolism</text>
<rect x="244.50" y="941.26" width="53.70" height="6.40" fill="#ffffb5" stroke="#111" stroke-width="1.1" />
<text x="227.50" y="947.96" text-anchor="end" style="font-family:'Liberation Sans', sans-serif;font-size:9.7px;font-weight:normal;" fill="#0d0d0d" >De Novo Triacylglycerol Biosynthesis</text>
<rect x="244.50" y="951.07" width="44.00" height="6.40" fill="#ffffca" stroke="#111" stroke-width="1.1" />
<text x="227.50" y="957.77" text-anchor="end" style="font-family:'Liberation Sans', sans-serif;font-size:9.7px;font-weight:normal;" fill="#0d0d0d" >Transfer of Acetyl Groups into Mitochondria</text>
<rect x="244.50" y="960.88" width="40.20" height="6.40" fill="#ffffdf" stroke="#111" stroke-width="1.1" />
<text x="227.50" y="967.58" text-anchor="end" style="font-family:'Liberation Sans', sans-serif;font-size:9.7px;font-weight:normal;" fill="#0d0d0d" >Pyruvate Metabolism</text>
<rect x="244.50" y="970.69" width="48.50" height="6.40" fill="#fffff4" stroke="#111" stroke-width="1.1" />
<text x="227.50" y="977.39" text-anchor="end" style="font-family:'Liberation Sans', sans-serif;font-size:9.7px;font-weight:normal;" fill="#0d0d0d" >Pyruvaldehyde Degradation</text>
<line x1="19.50" y1="552.10" x2="44.00" y2="552.10" stroke="#ef7f2f" stroke-width="1.8" />
<path d="M43,548.6 L51,552.1 L43,555.6 Z" fill="#ef7f2f"/>
<line x1="244.00" y1="997.30" x2="435.10" y2="997.30" stroke="#222" stroke-width="1" />
<line x1="244.00" y1="997.30" x2="244.00" y2="1004.00" stroke="#222" stroke-width="1" />
<text x="244.00" y="1025.50" text-anchor="middle" style="font-family:'Liberation Sans', sans-serif;font-size:12.5px;font-weight:normal;" fill="#111" >0</text>
<line x1="282.22" y1="997.30" x2="282.22" y2="1004.00" stroke="#222" stroke-width="1" />
<text x="282.22" y="1025.50" text-anchor="middle" style="font-family:'Liberation Sans', sans-serif;font-size:12.5px;font-weight:normal;" fill="#111" >1</text>
<line x1="320.44" y1="997.30" x2="320.44" y2="1004.00" stroke="#222" stroke-width="1" />
<text x="320.44" y="1025.50" text-anchor="middle" style="font-family:'Liberation Sans', sans-serif;font-size:12.5px;font-weight:normal;" fill="#111" >2</text>
<line x1="358.66" y1="997.30" x2="358.66" y2="1004.00" stroke="#222" stroke-width="1" />
<text x="358.66" y="1025.50" text-anchor="middle" style="font-family:'Liberation Sans', sans-serif;font-size:12.5px;font-weight:normal;" fill="#111" >3</text>
<line x1="396.88" y1="997.30" x2="396.88" y2="1004.00" stroke="#222" stroke-width="1" />
<text x="396.88" y="1025.50" text-anchor="middle" style="font-family:'Liberation Sans', sans-serif;font-size:12.5px;font-weight:normal;" fill="#111" >4</text>
<line x1="435.10" y1="997.30" x2="435.10" y2="1004.00" stroke="#222" stroke-width="1" />
<text x="435.10" y="1025.50" text-anchor="middle" style="font-family:'Liberation Sans', sans-serif;font-size:12.5px;font-weight:normal;" fill="#111" >5</text>
<text x="352.00" y="1054.60" text-anchor="middle" style="font-family:'Liberation Sans', sans-serif;font-size:13px;font-weight:normal;" fill="#111" >Fold Enrichment</text>
<defs><linearGradient id="hg" x1="0" y1="0" x2="0" y2="1">
<stop offset="0.000" stop-color="#ff0000"/>
<stop offset="0.026" stop-color="#ff0900"/>
<stop offset="0.051" stop-color="#ff1200"/>
<stop offset="0.077" stop-color="#ff1a00"/>
<stop offset="0.103" stop-color="#ff2300"/>
<stop offset="0.128" stop-color="#ff2c00"/>
<stop offset="0.154" stop-color="#ff3500"/>
<stop offset="0.179" stop-color="#ff3e00"/>
<stop offset="0.205" stop-color="#ff4600"/>
<stop offset="0.231" stop-color="#ff4f00"/>
<stop offset="0.256" stop-color="#ff5800"/>
<stop offset="0.282" stop-color="#ff6100"/>
<stop offset="0.308" stop-color="#ff6a00"/>
<stop offset="0.333" stop-color="#ff7200"/>
<stop offset="0.359" stop-color="#ff7b00"/>
<stop offset="0.385" stop-color="#ff8400"/>
<stop offset="0.410" stop-color="#ff8d00"/>
<stop offset="0.436" stop-color="#ff9500"/>
<stop offset="0.462" stop-color="#ff9e00"/>
<stop offset="0.487" stop-color="#ffa700"/>
<stop offset="0.513" stop-color="#ffb000"/>
<stop offset="0.538" stop-color="#ffb900"/>
<stop offset="0.564" stop-color="#ffc100"/>
<stop offset="0.590" stop-color="#ffca00"/>
<stop offset="0.615" stop-color="#ffd300"/>
<stop offset="0.641" stop-color="#ffdc00"/>
<stop offset="0.667" stop-color="#ffe500"/>
<stop offset="0.692" stop-color="#ffed00"/>
<stop offset="0.718" stop-color="#fff600"/>
<stop offset="0.744" stop-color="#ffff00"/>
<stop offset="0.769" stop-color="#ffff0d"/>
<stop offset="0.795" stop-color="#ffff26"/>
<stop offset="0.821" stop-color="#ffff40"/>
<stop offset="0.846" stop-color="#ffff59"/>
<stop offset="0.872" stop-color="#ffff73"/>
<stop offset="0.897" stop-color="#ffff8c"/>
<stop offset="0.923" stop-color="#ffffa6"/>
<stop offset="0.949" stop-color="#ffffbf"/>
<stop offset="0.974" stop-color="#ffffd9"/>
<stop offset="1.000" stop-color="#fffff2"/>
</linearGradient></defs>
<rect x="388.80" y="745.80" width="11.50" height="210.60" fill="url(#hg)" stroke="#222" stroke-width="1" />
<text x="373.50" y="730.60" text-anchor="start" style="font-family:'Liberation Sans', sans-serif;font-size:13px;font-weight:normal;" fill="#111" >P value</text>
<text x="414.80" y="751.30" text-anchor="start" style="font-family:'Liberation Sans', sans-serif;font-size:12.5px;font-weight:normal;" fill="#111" >3e-03</text>
<text x="414.80" y="855.90" text-anchor="start" style="font-family:'Liberation Sans', sans-serif;font-size:12.5px;font-weight:normal;" fill="#111" >3e-01</text>
<text x="414.80" y="961.50" text-anchor="start" style="font-family:'Liberation Sans', sans-serif;font-size:12.5px;font-weight:normal;" fill="#111" >6e-01</text>
<text x="571.00" y="18.40" text-anchor="start" style="font-family:'Liberation Serif', serif;font-size:21px;font-weight:bold;" fill="#000" >C</text>
<line x1="612.60" y1="278.20" x2="1024.60" y2="278.20" stroke="#aaa" stroke-width="1.1" stroke-dasharray="4,3"/>
<line x1="818.50" y1="16.00" x2="818.50" y2="335.90" stroke="#aaa" stroke-width="1.1" stroke-dasharray="4,3"/>
<circle cx="772.07" cy="278.78" r="2.55" fill="#bfbfbf"/>
<circle cx="809.77" cy="280.85" r="2.55" fill="#bfbfbf"/>
<circle cx="810.81" cy="287.05" r="2.55" fill="#bfbfbf"/>
<circle cx="801.82" cy="290.14" r="2.55" fill="#bfbfbf"/>
<circle cx="814.73" cy="291.18" r="2.55" fill="#bfbfbf"/>
<circle cx="809.77" cy="293.24" r="2.55" fill="#bfbfbf"/>
<circle cx="787.05" cy="298.10" r="2.55" fill="#bfbfbf"/>
<circle cx="788.60" cy="298.10" r="2.55" fill="#bfbfbf"/>
<circle cx="805.95" cy="297.89" r="2.55" fill="#bfbfbf"/>
<circle cx="811.12" cy="297.89" r="2.55" fill="#bfbfbf"/>
<circle cx="809.77" cy="304.09" r="2.55" fill="#bfbfbf"/>
<circle cx="793.24" cy="306.16" r="2.55" fill="#bfbfbf"/>
<circle cx="794.28" cy="306.16" r="2.55" fill="#bfbfbf"/>
<circle cx="802.02" cy="311.32" r="2.55" fill="#bfbfbf"/>
<circle cx="803.57" cy="311.32" r="2.55" fill="#bfbfbf"/>
<circle cx="823.20" cy="290.14" r="2.55" fill="#bfbfbf"/>
<circle cx="829.71" cy="284.26" r="2.55" fill="#bfbfbf"/>
<circle cx="840.04" cy="279.81" r="2.55" fill="#bfbfbf"/>
<circle cx="849.75" cy="283.43" r="2.55" fill="#bfbfbf"/>
<circle cx="834.05" cy="289.11" r="2.55" fill="#bfbfbf"/>
<circle cx="837.15" cy="290.14" r="2.55" fill="#bfbfbf"/>
<circle cx="842.11" cy="290.66" r="2.55" fill="#bfbfbf"/>
<circle cx="846.96" cy="290.14" r="2.55" fill="#bfbfbf"/>
<circle cx="857.09" cy="292.21" r="2.55" fill="#bfbfbf"/>
<circle cx="871.76" cy="290.14" r="2.55" fill="#bfbfbf"/>
<circle cx="833.53" cy="293.76" r="2.55" fill="#bfbfbf"/>
<circle cx="837.67" cy="295.31" r="2.55" fill="#bfbfbf"/>
<circle cx="823.20" cy="294.79" r="2.55" fill="#bfbfbf"/>
<circle cx="825.79" cy="297.38" r="2.55" fill="#bfbfbf"/>
<circle cx="820.10" cy="298.41" r="2.55" fill="#bfbfbf"/>
<circle cx="827.85" cy="298.41" r="2.55" fill="#bfbfbf"/>
<circle cx="822.17" cy="303.57" r="2.55" fill="#bfbfbf"/>
<circle cx="825.27" cy="306.16" r="2.55" fill="#bfbfbf"/>
<circle cx="830.95" cy="305.12" r="2.55" fill="#bfbfbf"/>
<circle cx="837.15" cy="307.19" r="2.55" fill="#bfbfbf"/>
<circle cx="833.02" cy="307.71" r="2.55" fill="#bfbfbf"/>
<circle cx="858.53" cy="306.16" r="2.55" fill="#bfbfbf"/>
<circle cx="847.69" cy="311.32" r="2.55" fill="#bfbfbf"/>
<circle cx="835.91" cy="311.84" r="2.55" fill="#bfbfbf"/>
<circle cx="829.40" cy="311.32" r="2.55" fill="#bfbfbf"/>
<circle cx="810.81" cy="308.74" r="2.55" fill="#bfbfbf"/>
<circle cx="815.97" cy="308.74" r="2.55" fill="#bfbfbf"/>
<circle cx="816.49" cy="310.29" r="2.55" fill="#bfbfbf"/>
<circle cx="812.36" cy="315.45" r="2.55" fill="#bfbfbf"/>
<circle cx="815.45" cy="317.52" r="2.55" fill="#bfbfbf"/>
<circle cx="818.55" cy="318.55" r="2.55" fill="#bfbfbf"/>
<circle cx="821.65" cy="312.36" r="2.55" fill="#bfbfbf"/>
<circle cx="823.72" cy="314.42" r="2.55" fill="#bfbfbf"/>
<circle cx="827.85" cy="313.39" r="2.55" fill="#bfbfbf"/>
<circle cx="828.88" cy="315.45" r="2.55" fill="#bfbfbf"/>
<circle cx="819.59" cy="321.65" r="2.55" fill="#bfbfbf"/>
<circle cx="823.72" cy="321.65" r="2.55" fill="#bfbfbf"/>
<circle cx="817.52" cy="320.62" r="2.55" fill="#bfbfbf"/>
<circle cx="821.65" cy="317.52" r="2.55" fill="#bfbfbf"/>
<circle cx="825.79" cy="311.32" r="2.55" fill="#bfbfbf"/>
<circle cx="813.39" cy="311.32" r="2.55" fill="#bfbfbf"/>
<circle cx="820.62" cy="315.45" r="2.55" fill="#bfbfbf"/>
<circle cx="824.75" cy="318.55" r="2.55" fill="#bfbfbf"/>
<circle cx="831.98" cy="310.29" r="2.55" fill="#bfbfbf"/>
<circle cx="814.42" cy="313.39" r="2.55" fill="#bfbfbf"/>
<circle cx="772.20" cy="211.50" r="2.55" fill="#0000ff"/>
<circle cx="796.30" cy="217.60" r="2.55" fill="#0000ff"/>
<circle cx="765.80" cy="244.00" r="2.55" fill="#0000ff"/>
<circle cx="788.30" cy="243.70" r="2.55" fill="#0000ff"/>
<circle cx="795.50" cy="246.10" r="2.55" fill="#0000ff"/>
<circle cx="772.70" cy="257.10" r="2.55" fill="#0000ff"/>
<circle cx="796.00" cy="257.10" r="2.55" fill="#0000ff"/>
<circle cx="796.00" cy="262.20" r="2.55" fill="#0000ff"/>
<circle cx="795.00" cy="267.40" r="2.55" fill="#0000ff"/>
<circle cx="759.00" cy="270.00" r="2.55" fill="#0000ff"/>
<circle cx="769.80" cy="270.00" r="2.55" fill="#0000ff"/>
<circle cx="809.20" cy="268.70" r="2.55" fill="#0000ff"/>
<circle cx="702.20" cy="269.80" r="2.55" fill="#0000ff"/>
<circle cx="704.60" cy="269.80" r="2.55" fill="#0000ff"/>
<circle cx="874.00" cy="29.80" r="2.55" fill="#ff0000"/>
<circle cx="883.50" cy="134.20" r="2.55" fill="#ff0000"/>
<circle cx="897.20" cy="174.60" r="2.55" fill="#ff0000"/>
<circle cx="911.00" cy="171.90" r="2.55" fill="#ff0000"/>
<circle cx="894.30" cy="189.20" r="2.55" fill="#ff0000"/>
<circle cx="883.50" cy="208.50" r="2.55" fill="#ff0000"/>
<circle cx="867.70" cy="269.90" r="2.55" fill="#ff0000"/>
<circle cx="871.50" cy="269.90" r="2.55" fill="#ff0000"/>
<circle cx="875.40" cy="269.90" r="2.55" fill="#ff0000"/>
<circle cx="880.20" cy="269.90" r="2.55" fill="#ff0000"/>
<circle cx="883.50" cy="269.90" r="2.55" fill="#ff0000"/>
<circle cx="900.40" cy="269.90" r="2.55" fill="#ff0000"/>
<circle cx="915.40" cy="269.90" r="2.55" fill="#ff0000"/>
<circle cx="920.80" cy="269.90" r="2.55" fill="#ff0000"/>
<circle cx="927.40" cy="269.90" r="2.55" fill="#ff0000"/>
<circle cx="938.30" cy="269.90" r="2.55" fill="#ff0000"/>
<circle cx="951.00" cy="269.90" r="2.55" fill="#ff0000"/>
<circle cx="955.70" cy="269.90" r="2.55" fill="#ff0000"/>
<circle cx="1000.50" cy="269.90" r="2.55" fill="#ff0000"/>
<circle cx="841.10" cy="185.30" r="2.55" fill="#ff0000"/>
<circle cx="852.70" cy="195.10" r="2.55" fill="#ff0000"/>
<circle cx="854.60" cy="198.60" r="2.55" fill="#ff0000"/>
<circle cx="856.70" cy="203.10" r="2.55" fill="#ff0000"/>
<circle cx="871.70" cy="201.50" r="2.55" fill="#ff0000"/>
<circle cx="843.00" cy="205.40" r="2.55" fill="#ff0000"/>
<circle cx="850.00" cy="209.60" r="2.55" fill="#ff0000"/>
<circle cx="839.00" cy="210.70" r="2.55" fill="#ff0000"/>
<circle cx="841.90" cy="212.30" r="2.55" fill="#ff0000"/>
<circle cx="864.80" cy="212.30" r="2.55" fill="#ff0000"/>
<circle cx="870.70" cy="210.70" r="2.55" fill="#ff0000"/>
<circle cx="844.30" cy="221.50" r="2.55" fill="#ff0000"/>
<circle cx="845.40" cy="227.60" r="2.55" fill="#ff0000"/>
<circle cx="842.50" cy="229.70" r="2.55" fill="#ff0000"/>
<circle cx="852.70" cy="228.90" r="2.55" fill="#ff0000"/>
<circle cx="879.20" cy="233.70" r="2.55" fill="#ff0000"/>
<circle cx="827.70" cy="239.40" r="2.55" fill="#ff0000"/>
<circle cx="830.10" cy="238.90" r="2.55" fill="#ff0000"/>
<circle cx="841.90" cy="240.20" r="2.55" fill="#ff0000"/>
<circle cx="858.30" cy="244.50" r="2.55" fill="#ff0000"/>
<circle cx="833.90" cy="244.50" r="2.55" fill="#ff0000"/>
<circle cx="835.50" cy="246.90" r="2.55" fill="#ff0000"/>
<circle cx="838.20" cy="248.90" r="2.55" fill="#ff0000"/>
<circle cx="842.70" cy="250.90" r="2.55" fill="#ff0000"/>
<circle cx="832.20" cy="252.20" r="2.55" fill="#ff0000"/>
<circle cx="867.20" cy="251.80" r="2.55" fill="#ff0000"/>
<circle cx="872.80" cy="250.90" r="2.55" fill="#ff0000"/>
<circle cx="832.20" cy="258.20" r="2.55" fill="#ff0000"/>
<circle cx="837.70" cy="258.70" r="2.55" fill="#ff0000"/>
<circle cx="841.90" cy="261.70" r="2.55" fill="#ff0000"/>
<circle cx="849.50" cy="260.60" r="2.55" fill="#ff0000"/>
<circle cx="851.60" cy="266.60" r="2.55" fill="#ff0000"/>
<circle cx="828.20" cy="264.60" r="2.55" fill="#ff0000"/>
<circle cx="823.70" cy="267.90" r="2.55" fill="#ff0000"/>
<circle cx="826.90" cy="269.50" r="2.55" fill="#ff0000"/>
<circle cx="830.10" cy="271.10" r="2.55" fill="#ff0000"/>
<circle cx="835.00" cy="271.40" r="2.55" fill="#ff0000"/>
<circle cx="841.40" cy="270.30" r="2.55" fill="#ff0000"/>
<circle cx="847.00" cy="270.30" r="2.55" fill="#ff0000"/>
<circle cx="859.90" cy="270.00" r="2.55" fill="#ff0000"/>
<circle cx="826.90" cy="274.30" r="2.55" fill="#ff0000"/>
<circle cx="838.20" cy="276.20" r="2.55" fill="#ff0000"/>
<circle cx="828.20" cy="277.80" r="2.55" fill="#ff0000"/>
<circle cx="825.00" cy="272.00" r="2.55" fill="#ff0000"/>
<circle cx="829.00" cy="275.00" r="2.55" fill="#ff0000"/>
<circle cx="832.00" cy="268.00" r="2.55" fill="#ff0000"/>
<circle cx="836.00" cy="265.00" r="2.55" fill="#ff0000"/>
<rect x="612.60" y="16.00" width="412.00" height="319.90" fill="none" stroke="#7f7f7f" stroke-width="1.2" />
<line x1="609.60" y1="321.80" x2="612.60" y2="321.80" stroke="#333" stroke-width="1.1" />
<text x="607.50" y="324.80" text-anchor="end" style="font-family:'Liberation Serif', serif;font-size:8.5px;font-weight:normal;" fill="#4d4d4d" >0</text>
<line x1="609.60" y1="248.90" x2="612.60" y2="248.90" stroke="#333" stroke-width="1.1" />
<text x="607.50" y="251.90" text-anchor="end" style="font-family:'Liberation Serif', serif;font-size:8.5px;font-weight:normal;" fill="#4d4d4d" >5</text>
<line x1="609.60" y1="176.00" x2="612.60" y2="176.00" stroke="#333" stroke-width="1.1" />
<text x="607.50" y="179.00" text-anchor="end" style="font-family:'Liberation Serif', serif;font-size:8.5px;font-weight:normal;" fill="#4d4d4d" >10</text>
<line x1="609.60" y1="103.10" x2="612.60" y2="103.10" stroke="#333" stroke-width="1.1" />
<text x="607.50" y="106.10" text-anchor="end" style="font-family:'Liberation Serif', serif;font-size:8.5px;font-weight:normal;" fill="#4d4d4d" >15</text>
<line x1="609.60" y1="30.20" x2="612.60" y2="30.20" stroke="#333" stroke-width="1.1" />
<text x="607.50" y="33.20" text-anchor="end" style="font-family:'Liberation Serif', serif;font-size:8.5px;font-weight:normal;" fill="#4d4d4d" >20</text>
<line x1="630.84" y1="335.90" x2="630.84" y2="338.90" stroke="#333" stroke-width="1.1" />
<text x="630.84" y="347.60" text-anchor="middle" style="font-family:'Liberation Serif', serif;font-size:8.5px;font-weight:normal;" fill="#4d4d4d" >&#8722;7</text>
<line x1="684.40" y1="335.90" x2="684.40" y2="338.90" stroke="#333" stroke-width="1.1" />
<text x="684.40" y="347.60" text-anchor="middle" style="font-family:'Liberation Serif', serif;font-size:8.5px;font-weight:normal;" fill="#4d4d4d" >&#8722;5</text>
<line x1="737.96" y1="335.90" x2="737.96" y2="338.90" stroke="#333" stroke-width="1.1" />
<text x="737.96" y="347.60" text-anchor="middle" style="font-family:'Liberation Serif', serif;font-size:8.5px;font-weight:normal;" fill="#4d4d4d" >&#8722;3</text>
<line x1="791.52" y1="335.90" x2="791.52" y2="338.90" stroke="#333" stroke-width="1.1" />
<text x="791.52" y="347.60" text-anchor="middle" style="font-family:'Liberation Serif', serif;font-size:8.5px;font-weight:normal;" fill="#4d4d4d" >&#8722;1</text>
<line x1="845.08" y1="335.90" x2="845.08" y2="338.90" stroke="#333" stroke-width="1.1" />
<text x="845.08" y="347.60" text-anchor="middle" style="font-family:'Liberation Serif', serif;font-size:8.5px;font-weight:normal;" fill="#4d4d4d" >1</text>
<line x1="898.64" y1="335.90" x2="898.64" y2="338.90" stroke="#333" stroke-width="1.1" />
<text x="898.64" y="347.60" text-anchor="middle" style="font-family:'Liberation Serif', serif;font-size:8.5px;font-weight:normal;" fill="#4d4d4d" >3</text>
<line x1="952.20" y1="335.90" x2="952.20" y2="338.90" stroke="#333" stroke-width="1.1" />
<text x="952.20" y="347.60" text-anchor="middle" style="font-family:'Liberation Serif', serif;font-size:8.5px;font-weight:normal;" fill="#4d4d4d" >5</text>
<line x1="1005.76" y1="335.90" x2="1005.76" y2="338.90" stroke="#333" stroke-width="1.1" />
<text x="1005.76" y="347.60" text-anchor="middle" style="font-family:'Liberation Serif', serif;font-size:8.5px;font-weight:normal;" fill="#4d4d4d" >7</text>
<text x="818.30" y="358.30" text-anchor="middle" style="font-family:'Liberation Serif', serif;font-size:10.5px;font-weight:normal;" fill="#111" >log2FC</text>
<text x="595.50" y="175.80" text-anchor="middle" style="font-family:'Liberation Serif', serif;font-size:10.5px;font-weight:normal;" fill="#111" transform="rotate(-90 595.5 175.8)" >-ln(P)</text>
<text x="636.00" y="276.70" text-anchor="start" style="font-family:'Liberation Serif', serif;font-size:9px;font-weight:normal;" fill="#222" >P=0.05</text>
<text x="897.50" y="254.10" text-anchor="start" style="font-family:'Liberation Serif', serif;font-size:9.8px;font-weight:bold;" fill="#111" >Spermine</text>
<line x1="891.80" y1="252.60" x2="856.00" y2="259.50" stroke="#111" stroke-width="1.1" />
<path d="M853.5,260 L859.5,256.3 L860.3,261.3 Z" fill="#111"/>
<text x="540.00" y="367.90" text-anchor="start" style="font-family:'Liberation Serif', serif;font-size:19px;font-weight:bold;" fill="#000" >D</text>
<text x="693.40" y="374.80" text-anchor="middle" style="font-family:'Liberation Serif', serif;font-size:11.6px;font-weight:bold;" fill="#111" >Spermine</text>
<text x="693.40" y="388.30" text-anchor="middle" style="font-family:'Liberation Serif', serif;font-size:11.7px;font-weight:bold;" fill="#111" >p=0.015</text>
<line x1="603.60" y1="590.70" x2="606.70" y2="590.70" stroke="#333" stroke-width="1.1" />
<text x="601.50" y="594.10" text-anchor="end" style="font-family:'Liberation Serif', serif;font-size:10px;font-weight:normal;" fill="#4d4d4d" >10000</text>
<line x1="603.60" y1="530.45" x2="606.70" y2="530.45" stroke="#333" stroke-width="1.1" />
<text x="601.50" y="533.85" text-anchor="end" style="font-family:'Liberation Serif', serif;font-size:10px;font-weight:normal;" fill="#4d4d4d" >20000</text>
<line x1="603.60" y1="470.20" x2="606.70" y2="470.20" stroke="#333" stroke-width="1.1" />
<text x="601.50" y="473.60" text-anchor="end" style="font-family:'Liberation Serif', serif;font-size:10px;font-weight:normal;" fill="#4d4d4d" >30000</text>
<line x1="603.60" y1="409.95" x2="606.70" y2="409.95" stroke="#333" stroke-width="1.1" />
<text x="601.50" y="413.35" text-anchor="end" style="font-family:'Liberation Serif', serif;font-size:10px;font-weight:normal;" fill="#4d4d4d" >40000</text>
<polygon points="635.70,534.30 635.67,534.76 635.64,535.34 635.61,536.03 635.58,536.80 635.54,537.64 635.48,538.52 635.40,539.44 635.30,540.37 635.17,541.30 635.00,542.20 634.80,543.10 634.58,544.04 634.33,545.00 634.06,545.98 633.76,546.98 633.45,547.98 633.11,548.99 632.76,550.00 632.39,551.01 632.00,552.00 631.59,552.99 631.14,553.98 630.67,554.97 630.18,555.96 629.67,556.95 629.15,557.94 628.63,558.93 628.11,559.92 627.60,560.91 627.10,561.90 626.61,562.88 626.11,563.86 625.61,564.84 625.11,565.82 624.61,566.80 624.11,567.78 623.62,568.76 623.14,569.74 622.66,570.72 622.20,571.70 621.73,572.70 621.24,573.71 620.74,574.74 620.24,575.77 619.76,576.80 619.31,577.82 618.89,578.81 618.53,579.78 618.23,580.71 618.00,581.60 617.85,582.44 617.75,583.24 617.70,584.00 617.71,584.74 617.76,585.46 617.84,586.16 617.97,586.86 618.12,587.56 618.30,588.27 618.50,589.00 618.76,589.77 619.09,590.60 619.49,591.45 619.93,592.32 620.38,593.16 620.83,593.97 621.26,594.72 621.65,595.39 621.97,595.96 622.20,596.40 684.80,596.40 685.03,595.96 685.35,595.39 685.74,594.72 686.17,593.97 686.62,593.16 687.07,592.32 687.51,591.45 687.91,590.60 688.24,589.77 688.50,589.00 688.70,588.27 688.88,587.56 689.03,586.86 689.16,586.16 689.24,585.46 689.29,584.74 689.30,584.00 689.25,583.24 689.15,582.44 689.00,581.60 688.77,580.71 688.47,579.78 688.11,578.81 687.69,577.82 687.24,576.80 686.76,575.77 686.26,574.74 685.76,573.71 685.27,572.70 684.80,571.70 684.34,570.72 683.86,569.74 683.38,568.76 682.89,567.78 682.39,566.80 681.89,565.82 681.39,564.84 680.89,563.86 680.39,562.88 679.90,561.90 679.40,560.91 678.89,559.92 678.37,558.93 677.85,557.94 677.33,556.95 676.82,555.96 676.33,554.97 675.86,553.98 675.41,552.99 675.00,552.00 674.61,551.01 674.24,550.00 673.89,548.99 673.55,547.98 673.24,546.98 672.94,545.98 672.67,545.00 672.42,544.04 672.20,543.10 672.00,542.20 671.83,541.30 671.70,540.37 671.60,539.44 671.52,538.52 671.46,537.64 671.42,536.80 671.39,536.03 671.36,535.34 671.33,534.76 671.30,534.30" fill="#c896e6" stroke="#111" stroke-width="1.2" stroke-linejoin="round"/>
<polygon points="720.30,401.90 720.40,402.31 720.52,402.81 720.65,403.39 720.81,404.05 720.98,404.77 721.17,405.56 721.36,406.41 721.57,407.30 721.78,408.23 722.00,409.20 722.24,410.23 722.51,411.36 722.81,412.55 723.11,413.80 723.43,415.09 723.73,416.40 724.02,417.73 724.28,419.04 724.51,420.34 724.70,421.60 724.85,422.83 724.99,424.07 725.10,425.30 725.20,426.53 725.27,427.76 725.31,428.98 725.33,430.21 725.32,431.44 725.28,432.67 725.20,433.90 725.09,435.13 724.96,436.36 724.80,437.59 724.61,438.82 724.39,440.05 724.14,441.28 723.85,442.51 723.54,443.74 723.19,444.97 722.80,446.20 722.36,447.43 721.87,448.66 721.32,449.89 720.74,451.12 720.14,452.35 719.52,453.58 718.89,454.81 718.27,456.04 717.67,457.27 717.10,458.50 716.54,459.73 715.97,460.96 715.40,462.19 714.84,463.42 714.27,464.65 713.72,465.88 713.19,467.11 712.67,468.34 712.17,469.57 711.70,470.80 711.24,472.04 710.78,473.30 710.33,474.57 709.89,475.84 709.47,477.10 709.08,478.35 708.73,479.59 708.43,480.79 708.18,481.97 708.00,483.10 707.88,484.19 707.82,485.24 707.81,486.25 707.85,487.24 707.93,488.21 708.04,489.16 708.18,490.11 708.34,491.06 708.52,492.02 708.70,493.00 708.91,493.98 709.18,494.96 709.49,495.93 709.82,496.90 710.17,497.88 710.52,498.85 710.86,499.83 711.18,500.81 711.46,501.80 711.70,502.80 711.90,503.86 712.07,504.99 712.23,506.18 712.37,507.38 712.49,508.56 712.59,509.70 712.68,510.75 712.77,511.69 712.84,512.48 712.90,513.10 751.30,513.10 751.36,512.48 751.43,511.69 751.52,510.75 751.61,509.70 751.71,508.56 751.83,507.38 751.97,506.18 752.13,504.99 752.30,503.86 752.50,502.80 752.74,501.80 753.02,500.81 753.34,499.83 753.68,498.85 754.03,497.88 754.38,496.90 754.71,495.93 755.02,494.96 755.29,493.98 755.50,493.00 755.68,492.02 755.86,491.06 756.02,490.11 756.16,489.16 756.27,488.21 756.35,487.24 756.39,486.25 756.38,485.24 756.32,484.19 756.20,483.10 756.02,481.97 755.77,480.79 755.47,479.59 755.12,478.35 754.73,477.10 754.31,475.84 753.87,474.57 753.42,473.30 752.96,472.04 752.50,470.80 752.03,469.57 751.53,468.34 751.01,467.11 750.48,465.88 749.93,464.65 749.36,463.42 748.80,462.19 748.23,460.96 747.66,459.73 747.10,458.50 746.53,457.27 745.93,456.04 745.31,454.81 744.68,453.58 744.06,452.35 743.46,451.12 742.88,449.89 742.33,448.66 741.84,447.43 741.40,446.20 741.01,444.97 740.66,443.74 740.35,442.51 740.06,441.28 739.81,440.05 739.59,438.82 739.40,437.59 739.24,436.36 739.11,435.13 739.00,433.90 738.92,432.67 738.88,431.44 738.87,430.21 738.89,428.98 738.93,427.76 739.00,426.53 739.10,425.30 739.21,424.07 739.35,422.83 739.50,421.60 739.69,420.34 739.92,419.04 740.18,417.73 740.47,416.40 740.77,415.09 741.09,413.80 741.39,412.55 741.69,411.36 741.96,410.23 742.20,409.20 742.42,408.23 742.63,407.30 742.84,406.41 743.03,405.56 743.22,404.77 743.39,404.05 743.55,403.39 743.68,402.81 743.80,402.31 743.90,401.90" fill="#17994f" stroke="#111" stroke-width="1.2" stroke-linejoin="round"/>
<line x1="653.50" y1="534.30" x2="653.50" y2="596.40" stroke="#111" stroke-width="1.3" />
<line x1="732.10" y1="401.90" x2="732.10" y2="513.10" stroke="#111" stroke-width="1.3" />
<rect x="649.30" y="557.70" width="8.20" height="29.30" fill="#fff" stroke="#111" stroke-width="1.2" />
<line x1="649.30" y1="575.00" x2="657.50" y2="575.00" stroke="#111" stroke-width="2" />
<rect x="728.10" y="452.80" width="8.20" height="42.10" fill="#fff" stroke="#111" stroke-width="1.2" />
<line x1="728.10" y1="478.90" x2="736.30" y2="478.90" stroke="#111" stroke-width="2" />
<rect x="606.70" y="392.30" width="172.40" height="213.20" fill="none" stroke="#7f7f7f" stroke-width="1.2" />
<line x1="653.50" y1="605.50" x2="653.50" y2="608.50" stroke="#333" stroke-width="1.1" />
<line x1="732.10" y1="605.50" x2="732.10" y2="608.50" stroke="#333" stroke-width="1.1" />
<text x="653.50" y="623.50" text-anchor="middle" style="font-family:'Liberation Serif', serif;font-size:12.2px;font-weight:bold;" fill="#111" >U251</text>
<text x="732.10" y="623.50" text-anchor="middle" style="font-family:'Liberation Serif', serif;font-size:12.2px;font-weight:bold;" fill="#111" >T98G</text>
<text x="564.80" y="497.00" text-anchor="middle" style="font-family:'Liberation Serif', serif;font-size:13.7px;font-weight:bold;" fill="#111" transform="rotate(-90 564.8 497)" >Intensity</text>
<defs>
<filter id="bl0" x="-30%" y="-200%" width="160%" height="500%"><feGaussianBlur stdDeviation="0.7"/></filter>
<filter id="bl1" x="-30%" y="-200%" width="160%" height="500%"><feGaussianBlur stdDeviation="1.1"/></filter>
<filter id="bl2" x="-30%" y="-200%" width="160%" height="500%"><feGaussianBlur stdDeviation="1.8"/></filter>
<linearGradient id="actbg" x1="0" y1="0" x2="0" y2="1"><stop offset="0" stop-color="#efefef"/><stop offset="0.45" stop-color="#e6e6e6"/><stop offset="1" stop-color="#f2f2f2"/></linearGradient>
<linearGradient id="actbgE" x1="0" y1="0" x2="0" y2="1"><stop offset="0" stop-color="#eeeeee"/><stop offset="0.5" stop-color="#e9e9e9"/><stop offset="1" stop-color="#f0f0f0"/></linearGradient>
</defs>
<text x="485.30" y="644.20" text-anchor="start" style="font-family:'Liberation Serif', serif;font-size:19px;font-weight:bold;" fill="#000" >E</text>
<text x="695.20" y="664.40" text-anchor="middle" style="font-family:'Liberation Serif', serif;font-size:18.5px;font-weight:bold;" fill="#000" >U87MG</text>
<line x1="599.40" y1="673.20" x2="772.20" y2="673.20" stroke="#222" stroke-width="1.4" />
<text x="598.90" y="698.80" text-anchor="end" style="font-family:'Liberation Serif', serif;font-size:16px;font-weight:normal;" fill="#000" >TMZ (&#956;M)</text>
<text x="623.80" y="696.50" text-anchor="middle" style="font-family:'Liberation Serif', serif;font-size:14.5px;font-weight:normal;" fill="#000" >0</text>
<text x="666.00" y="696.50" text-anchor="middle" style="font-family:'Liberation Serif', serif;font-size:14.5px;font-weight:normal;" fill="#000" >50</text>
<text x="703.60" y="696.50" text-anchor="middle" style="font-family:'Liberation Serif', serif;font-size:14.5px;font-weight:normal;" fill="#000" >100</text>
<text x="744.90" y="696.50" text-anchor="middle" style="font-family:'Liberation Serif', serif;font-size:14.5px;font-weight:normal;" fill="#000" >200</text>
<rect x="600.40" y="704.20" width="173.40" height="27.20" fill="#fbfbfb" stroke="#222" stroke-width="1.4" />
<ellipse cx="661.00" cy="718.00" rx="15.00" ry="7.00" fill="#ececec" opacity="0.8" filter="url(#bl2)"/>
<ellipse cx="705.00" cy="717.00" rx="17.00" ry="8.00" fill="#e8e8e8" opacity="0.8" filter="url(#bl2)"/>
<ellipse cx="746.00" cy="716.00" rx="15.00" ry="6.00" fill="#ececec" opacity="0.8" filter="url(#bl2)"/>
<ellipse cx="663.00" cy="718.00" rx="12.00" ry="1.30" fill="#c2c2c2" opacity="0.9" filter="url(#bl1)"/>
<ellipse cx="704.50" cy="717.30" rx="14.00" ry="1.50" fill="#adadad" opacity="0.9" filter="url(#bl1)"/>
<ellipse cx="747.00" cy="716.30" rx="11.00" ry="1.40" fill="#b5b5b5" opacity="0.9" filter="url(#bl1)"/>
<text x="589.80" y="725.80" text-anchor="end" style="font-family:'Liberation Serif', serif;font-size:19px;font-weight:normal;" fill="#000" >MGMT</text>
<rect x="600.10" y="741.20" width="174.40" height="28.80" fill="url(#actbgE)" stroke="#222" stroke-width="1.4" />
<ellipse cx="710.50" cy="757.50" rx="19.00" ry="5.50" fill="#cfcfcf" opacity="0.6" filter="url(#bl2)"/>
<ellipse cx="623.00" cy="756.00" rx="17.00" ry="4.50" fill="#d5d5d5" opacity="0.5" filter="url(#bl2)"/>
<path d="M608.60,754.40 Q616.25,754.40 623.90,754.40 A1.10,1.10 0 0 1 623.90,756.60 Q616.25,756.60 608.60,756.60 A1.10,1.10 0 0 1 608.60,754.40 Z" fill="#3a3a3a" opacity="1" filter="url(#bl1)"/>
<ellipse cx="628.00" cy="755.50" rx="11.00" ry="2.20" fill="#060606" opacity="1" filter="url(#bl0)"/>
<path d="M621.90,753.60 Q628.00,753.60 634.10,753.60 A1.90,1.90 0 0 1 634.10,757.40 Q628.00,757.40 621.90,757.40 A1.90,1.90 0 0 1 621.90,753.60 Z" fill="#060606" opacity="1" filter="url(#bl0)"/>
<ellipse cx="666.60" cy="756.70" rx="14.50" ry="1.85" fill="#0c0c0c" opacity="1" filter="url(#bl0)"/>
<path d="M657.65,755.05 Q666.50,755.05 675.35,755.05 A1.65,1.65 0 0 1 675.35,758.35 Q666.50,758.35 657.65,758.35 A1.65,1.65 0 0 1 657.65,755.05 Z" fill="#0c0c0c" opacity="1" filter="url(#bl0)"/>
<ellipse cx="710.50" cy="757.20" rx="15.75" ry="2.80" fill="#040404" opacity="1" filter="url(#bl0)"/>
<path d="M700.60,754.60 Q710.50,754.60 720.40,754.60 A2.60,2.60 0 0 1 720.40,759.80 Q710.50,759.80 700.60,759.80 A2.60,2.60 0 0 1 700.60,754.60 Z" fill="#040404" opacity="1" filter="url(#bl0)"/>
<ellipse cx="753.90" cy="757.60" rx="14.00" ry="1.80" fill="#101010" opacity="1" filter="url(#bl0)"/>
<path d="M745.60,756.00 Q754.00,756.00 762.40,756.00 A1.60,1.60 0 0 1 762.40,759.20 Q754.00,759.20 745.60,759.20 A1.60,1.60 0 0 1 745.60,756.00 Z" fill="#101010" opacity="1" filter="url(#bl0)"/>
<text x="585.30" y="763.20" text-anchor="end" style="font-family:'Liberation Serif', serif;font-size:19px;font-weight:normal;" fill="#000" >&#946;-actin</text>
<text x="484.20" y="826.50" text-anchor="start" style="font-family:'Liberation Serif', serif;font-size:20px;font-weight:bold;" fill="#000" >F</text>
<text x="564.10" y="860.60" text-anchor="end" style="font-family:'Liberation Serif', serif;font-size:17px;font-weight:normal;" fill="#000" >SPM</text>
<text x="598.60" y="860.40" text-anchor="middle" style="font-family:'Liberation Serif', serif;font-size:16px;font-weight:normal;" fill="#000" >-</text>
<text x="705.70" y="860.40" text-anchor="middle" style="font-family:'Liberation Serif', serif;font-size:16px;font-weight:normal;" fill="#000" >-</text>
<text x="645.50" y="861.00" text-anchor="middle" style="font-family:'Liberation Serif', serif;font-size:17px;font-weight:normal;" fill="#000" >+</text>
<text x="748.50" y="861.00" text-anchor="middle" style="font-family:'Liberation Serif', serif;font-size:17px;font-weight:normal;" fill="#000" >+</text>
<text x="564.80" y="896.70" text-anchor="end" style="font-family:'Liberation Serif', serif;font-size:19.2px;font-weight:normal;" fill="#000" >MGMT</text>
<text x="561.00" y="934.80" text-anchor="end" style="font-family:'Liberation Serif', serif;font-size:19px;font-weight:normal;" fill="#000" >&#946;-actin</text>
<rect x="577.00" y="873.20" width="93.50" height="29.50" fill="#fdfdfd" stroke="#222" stroke-width="1.4" />
<rect x="681.50" y="873.20" width="90.30" height="29.20" fill="#fbfbfb" stroke="#222" stroke-width="1.4" />
<ellipse cx="598.00" cy="887.00" rx="9.50" ry="1.10" fill="#e8e8e8" opacity="1" filter="url(#bl1)"/>
<path d="M633.40,887.00 Q644.45,887.00 655.50,887.00 A1.30,1.30 0 0 1 655.50,889.60 Q644.45,889.60 633.40,889.60 A1.30,1.30 0 0 1 633.40,887.00 Z" fill="#6a6a6a" opacity="1" filter="url(#bl1)"/>
<ellipse cx="644.00" cy="879.00" rx="11.00" ry="2.50" fill="#e2e2e2" opacity="1" filter="url(#bl2)"/>
<path d="M694.05,888.05 Q705.10,885.65 716.15,888.05 A2.75,2.75 0 0 1 716.15,893.55 Q705.10,892.35 694.05,893.55 A2.75,2.75 0 0 1 694.05,888.05 Z" fill="#4a4a4a" opacity="1" filter="url(#bl1)"/>
<path d="M737.00,885.30 Q747.50,882.10 758.00,885.30 A3.30,3.30 0 0 1 758.00,891.90 Q747.50,891.30 737.00,891.90 A3.30,3.30 0 0 1 737.00,885.30 Z" fill="#030303" opacity="1" filter="url(#bl1)"/>
<rect x="577.00" y="916.00" width="93.50" height="28.60" fill="url(#actbg)" stroke="#222" stroke-width="1.4" />
<rect x="682.70" y="916.00" width="90.70" height="28.60" fill="url(#actbg)" stroke="#222" stroke-width="1.4" />
<ellipse cx="600.50" cy="930.00" rx="19.00" ry="5.00" fill="#d5d5d5" opacity="0.7" filter="url(#bl2)"/>
<ellipse cx="645.60" cy="930.00" rx="18.00" ry="5.00" fill="#d5d5d5" opacity="0.7" filter="url(#bl2)"/>
<ellipse cx="706.80" cy="932.00" rx="19.00" ry="5.00" fill="#d5d5d5" opacity="0.7" filter="url(#bl2)"/>
<ellipse cx="750.50" cy="932.00" rx="18.00" ry="5.00" fill="#d5d5d5" opacity="0.7" filter="url(#bl2)"/>
<path d="M586.40,925.50 Q600.55,925.50 614.70,925.50 A2.60,2.60 0 0 1 614.70,930.70 Q600.55,930.70 586.40,930.70 A2.60,2.60 0 0 1 586.40,925.50 Z" fill="#050505" opacity="1" filter="url(#bl1)"/>
<path d="M632.70,925.50 Q645.60,925.50 658.50,925.50 A2.60,2.60 0 0 1 658.50,930.70 Q645.60,930.70 632.70,930.70 A2.60,2.60 0 0 1 632.70,925.50 Z" fill="#050505" opacity="1" filter="url(#bl1)"/>
<path d="M692.90,927.50 Q706.85,927.50 720.80,927.50 A2.60,2.60 0 0 1 720.80,932.70 Q706.85,932.70 692.90,932.70 A2.60,2.60 0 0 1 692.90,927.50 Z" fill="#050505" opacity="1" filter="url(#bl1)"/>
<path d="M737.30,927.20 Q750.45,927.20 763.60,927.20 A2.60,2.60 0 0 1 763.60,932.40 Q750.45,932.40 737.30,932.40 A2.60,2.60 0 0 1 737.30,927.20 Z" fill="#050505" opacity="1" filter="url(#bl1)"/>
<text x="620.30" y="967.00" text-anchor="middle" style="font-family:'Liberation Serif', serif;font-size:17.6px;font-weight:bold;" fill="#000" >U87MG</text>
<text x="727.70" y="967.00" text-anchor="middle" style="font-family:'Liberation Serif', serif;font-size:17.3px;font-weight:bold;" fill="#000" >T98G</text>
<line x1="870.50" y1="585.00" x2="870.50" y2="767.40" stroke="#111" stroke-width="1.6" />
<line x1="869.50" y1="766.40" x2="1060.00" y2="766.40" stroke="#111" stroke-width="1.6" />
<line x1="866.50" y1="766.40" x2="870.50" y2="766.40" stroke="#111" stroke-width="1.4" />
<text x="867.00" y="770.60" text-anchor="end" style="font-family:'Liberation Serif', serif;font-size:12.5px;font-weight:bold;" fill="#000"  textLength="13.80" lengthAdjust="spacingAndGlyphs">0.0</text>
<line x1="866.50" y1="706.10" x2="870.50" y2="706.10" stroke="#111" stroke-width="1.4" />
<text x="867.00" y="710.30" text-anchor="end" style="font-family:'Liberation Serif', serif;font-size:12.5px;font-weight:bold;" fill="#000"  textLength="13.80" lengthAdjust="spacingAndGlyphs">0.2</text>
<line x1="866.50" y1="645.80" x2="870.50" y2="645.80" stroke="#111" stroke-width="1.4" />
<text x="867.00" y="650.00" text-anchor="end" style="font-family:'Liberation Serif', serif;font-size:12.5px;font-weight:bold;" fill="#000"  textLength="13.80" lengthAdjust="spacingAndGlyphs">0.4</text>
<line x1="866.50" y1="585.50" x2="870.50" y2="585.50" stroke="#111" stroke-width="1.4" />
<text x="867.00" y="589.70" text-anchor="end" style="font-family:'Liberation Serif', serif;font-size:12.5px;font-weight:bold;" fill="#000"  textLength="13.80" lengthAdjust="spacingAndGlyphs">0.6</text>
<line x1="899.80" y1="730.50" x2="899.80" y2="740.20" stroke="#333" stroke-width="1.2" />
<line x1="896.30" y1="730.50" x2="903.30" y2="730.50" stroke="#333" stroke-width="1.2" />
<rect x="886.70" y="741.20" width="26.20" height="25.20" fill="#fff" stroke="#111" stroke-width="2" />
<line x1="943.60" y1="645.20" x2="943.60" y2="675.90" stroke="#333" stroke-width="1.2" />
<line x1="940.10" y1="645.20" x2="947.10" y2="645.20" stroke="#333" stroke-width="1.2" />
<rect x="930.50" y="676.90" width="26.20" height="89.50" fill="#fff" stroke="#111" stroke-width="2" />
<line x1="987.30" y1="643.40" x2="987.30" y2="670.90" stroke="#333" stroke-width="1.2" />
<line x1="983.80" y1="643.40" x2="990.80" y2="643.40" stroke="#333" stroke-width="1.2" />
<rect x="974.20" y="671.90" width="26.20" height="94.50" fill="#fff" stroke="#111" stroke-width="2" />
<line x1="1030.50" y1="602.50" x2="1030.50" y2="627.50" stroke="#333" stroke-width="1.2" />
<line x1="1027.00" y1="602.50" x2="1034.00" y2="602.50" stroke="#333" stroke-width="1.2" />
<rect x="1017.40" y="628.50" width="26.20" height="137.90" fill="#fff" stroke="#111" stroke-width="2" />
<line x1="899.80" y1="766.40" x2="899.80" y2="769.90" stroke="#111" stroke-width="1.4" />
<line x1="943.60" y1="766.40" x2="943.60" y2="769.90" stroke="#111" stroke-width="1.4" />
<line x1="987.30" y1="766.40" x2="987.30" y2="769.90" stroke="#111" stroke-width="1.4" />
<line x1="1030.50" y1="766.40" x2="1030.50" y2="769.90" stroke="#111" stroke-width="1.4" />
<text x="899.80" y="783.90" text-anchor="middle" style="font-family:'Liberation Serif', serif;font-size:15px;font-weight:bold;" fill="#000" >0</text>
<text x="943.60" y="783.90" text-anchor="middle" style="font-family:'Liberation Serif', serif;font-size:15px;font-weight:bold;" fill="#000" >50</text>
<text x="987.30" y="783.90" text-anchor="middle" style="font-family:'Liberation Serif', serif;font-size:15px;font-weight:bold;" fill="#000" >100</text>
<text x="1030.50" y="783.90" text-anchor="middle" style="font-family:'Liberation Serif', serif;font-size:15px;font-weight:bold;" fill="#000" >200</text>
<line x1="882.00" y1="786.60" x2="1048.60" y2="786.60" stroke="#111" stroke-width="1.4" />
<text x="965.50" y="803.80" text-anchor="middle" style="font-family:'Liberation Serif', serif;font-size:15px;font-weight:bold;" fill="#000" >TMZ (&#956;M)</text>
<text x="965.70" y="578.20" text-anchor="middle" style="font-family:'Liberation Serif', serif;font-size:15.5px;font-weight:bold;" fill="#000" >U87MG</text>
<polyline points="899.80,600.90 899.80,596.40 1030.90,596.40 1030.90,600.90" fill="none" stroke="#333" stroke-width="1.1"/>
<polyline points="899.80,622.50 899.80,618.00 987.30,618.00 987.30,622.50" fill="none" stroke="#333" stroke-width="1.1"/>
<polyline points="899.80,640.80 899.80,637.30 943.60,637.30 943.60,640.80" fill="none" stroke="#333" stroke-width="1.1"/>
<text x="965.00" y="594.00" text-anchor="middle" style="font-family:'Liberation Serif', serif;font-size:13px;font-weight:bold;" fill="#000" >**</text>
<text x="943.40" y="615.50" text-anchor="middle" style="font-family:'Liberation Serif', serif;font-size:13px;font-weight:bold;" fill="#000" >*</text>
<text x="920.90" y="634.30" text-anchor="middle" style="font-family:'Liberation Serif', serif;font-size:13px;font-weight:bold;" fill="#000" >*</text>
<text transform="translate(829.5,673) rotate(-90)" text-anchor="middle" style="font-family:'Liberation Serif', serif;font-size:15px;font-weight:bold;">Relative MGMT abundance</text>
<text transform="translate(847.5,673) rotate(-90)" text-anchor="middle" style="font-family:'Liberation Serif', serif;font-size:15px;font-weight:bold;">(fold of actin)</text>
<line x1="868.00" y1="817.20" x2="868.00" y2="1013.00" stroke="#111" stroke-width="1.6" />
<line x1="867.00" y1="1012.00" x2="1063.40" y2="1012.00" stroke="#111" stroke-width="1.6" />
<line x1="864.00" y1="1012.00" x2="868.00" y2="1012.00" stroke="#111" stroke-width="1.4" />
<text x="864.50" y="1016.20" text-anchor="end" style="font-family:'Liberation Serif', serif;font-size:12.5px;font-weight:bold;" fill="#000"  textLength="13.80" lengthAdjust="spacingAndGlyphs">0.0</text>
<line x1="864.00" y1="947.10" x2="868.00" y2="947.10" stroke="#111" stroke-width="1.4" />
<text x="864.50" y="951.30" text-anchor="end" style="font-family:'Liberation Serif', serif;font-size:12.5px;font-weight:bold;" fill="#000"  textLength="13.80" lengthAdjust="spacingAndGlyphs">0.5</text>
<line x1="864.00" y1="882.20" x2="868.00" y2="882.20" stroke="#111" stroke-width="1.4" />
<text x="864.50" y="886.40" text-anchor="end" style="font-family:'Liberation Serif', serif;font-size:12.5px;font-weight:bold;" fill="#000"  textLength="13.80" lengthAdjust="spacingAndGlyphs">1.0</text>
<line x1="864.00" y1="817.30" x2="868.00" y2="817.30" stroke="#111" stroke-width="1.4" />
<text x="864.50" y="821.50" text-anchor="end" style="font-family:'Liberation Serif', serif;font-size:12.5px;font-weight:bold;" fill="#000"  textLength="13.80" lengthAdjust="spacingAndGlyphs">1.5</text>
<rect x="881.15" y="1011.80" width="25.70" height="0.20" fill="#fff" stroke="#111" stroke-width="2" />
<rect x="919.90" y="989.00" width="25.70" height="23.00" fill="#fff" stroke="#111" stroke-width="2" />
<line x1="932.75" y1="981.30" x2="932.75" y2="994.30" stroke="#333" stroke-width="1.2" />
<line x1="926.25" y1="981.30" x2="939.25" y2="981.30" stroke="#333" stroke-width="1.2" />
<line x1="926.25" y1="994.30" x2="939.25" y2="994.30" stroke="#333" stroke-width="1.2" />
<rect x="984.90" y="942.10" width="25.70" height="69.90" fill="#d4d4d4" stroke="#111" stroke-width="2" />
<line x1="997.75" y1="931.30" x2="997.75" y2="949.20" stroke="#333" stroke-width="1.2" />
<line x1="991.25" y1="931.30" x2="1004.25" y2="931.30" stroke="#333" stroke-width="1.2" />
<line x1="991.25" y1="949.20" x2="1004.25" y2="949.20" stroke="#333" stroke-width="1.2" />
<rect x="1023.80" y="885.80" width="25.70" height="126.20" fill="#d4d4d4" stroke="#111" stroke-width="2" />
<line x1="1036.65" y1="868.70" x2="1036.65" y2="899.80" stroke="#333" stroke-width="1.2" />
<line x1="1030.15" y1="868.70" x2="1043.15" y2="868.70" stroke="#333" stroke-width="1.2" />
<line x1="1030.15" y1="899.80" x2="1043.15" y2="899.80" stroke="#333" stroke-width="1.2" />
<line x1="893.50" y1="1012.00" x2="893.50" y2="1015.50" stroke="#111" stroke-width="1.4" />
<line x1="932.60" y1="1012.00" x2="932.60" y2="1015.50" stroke="#111" stroke-width="1.4" />
<line x1="997.40" y1="1012.00" x2="997.40" y2="1015.50" stroke="#111" stroke-width="1.4" />
<line x1="1036.50" y1="1012.00" x2="1036.50" y2="1015.50" stroke="#111" stroke-width="1.4" />
<text x="893.50" y="1028.50" text-anchor="middle" style="font-family:'Liberation Serif', serif;font-size:15px;font-weight:normal;" fill="#000" >-</text>
<text x="932.60" y="1029.00" text-anchor="middle" style="font-family:'Liberation Serif', serif;font-size:17px;font-weight:normal;" fill="#000" >+</text>
<text x="997.40" y="1028.50" text-anchor="middle" style="font-family:'Liberation Serif', serif;font-size:15px;font-weight:normal;" fill="#000" >-</text>
<text x="1036.50" y="1029.00" text-anchor="middle" style="font-family:'Liberation Serif', serif;font-size:17px;font-weight:normal;" fill="#000" >+</text>
<line x1="876.10" y1="1032.30" x2="1048.80" y2="1032.30" stroke="#111" stroke-width="1.4" />
<text x="965.30" y="1050.20" text-anchor="middle" style="font-family:'Liberation Serif', serif;font-size:15px;font-weight:bold;" fill="#000" >SPM (1&#956;M)</text>
<polyline points="892.00,977.50 892.00,971.50 933.30,971.50 933.30,977.50" fill="none" stroke="#333" stroke-width="1.1"/>
<polyline points="994.50,865.20 994.50,858.70 1036.10,858.70 1036.10,865.20" fill="none" stroke="#333" stroke-width="1.1"/>
<text x="912.50" y="969.50" text-anchor="middle" style="font-family:'Liberation Serif', serif;font-size:12px;font-weight:bold;" fill="#000" >**</text>
<text x="1015.30" y="857.50" text-anchor="middle" style="font-family:'Liberation Serif', serif;font-size:12px;font-weight:bold;" fill="#000" >**</text>
<rect x="897.50" y="863.50" width="8.00" height="11.00" fill="#fff" stroke="#111" stroke-width="1.4" />
<rect x="897.50" y="883.40" width="8.00" height="11.00" fill="#d4d4d4" stroke="#111" stroke-width="1.4" />
<text x="910.70" y="874.20" text-anchor="start" style="font-family:'Liberation Serif', serif;font-size:15px;font-weight:bold;" fill="#000" >U87MG</text>
<text x="910.70" y="894.20" text-anchor="start" style="font-family:'Liberation Serif', serif;font-size:15px;font-weight:bold;" fill="#000" >T98G</text>
<text transform="translate(826.5,911.5) rotate(-90)" text-anchor="middle" style="font-family:'Liberation Serif', serif;font-size:15px;font-weight:bold;">Relative MGMT abundance</text>
<text transform="translate(844.5,911.5) rotate(-90)" text-anchor="middle" style="font-family:'Liberation Serif', serif;font-size:15px;font-weight:bold;">(fold of actin)</text>
</svg>
</body></html>
